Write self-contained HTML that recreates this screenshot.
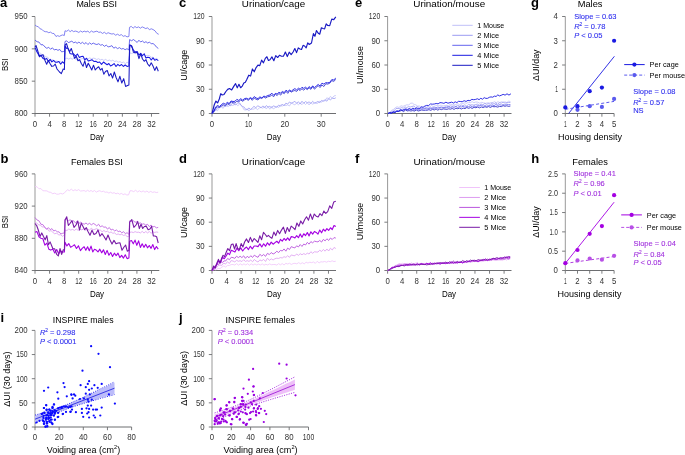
<!DOCTYPE html>
<html><head><meta charset="utf-8"><style>html,body{margin:0;padding:0;background:#fff;}svg{display:block;will-change:transform;}text{font-family:"Liberation Sans",sans-serif;}</style></head><body>
<svg width="685" height="455" viewBox="0 0 685 455" font-family="Liberation Sans, sans-serif">
<rect width="685" height="455" fill="#fff"/>
<text x="0.00" y="6.90" font-size="13" font-weight="bold" fill="#000">a</text>
<text x="179.00" y="6.70" font-size="13" font-weight="bold" fill="#000">c</text>
<text x="355.00" y="6.70" font-size="13" font-weight="bold" fill="#000">e</text>
<text x="531.00" y="6.50" font-size="13" font-weight="bold" fill="#000">g</text>
<text x="0.40" y="163.10" font-size="13" font-weight="bold" fill="#000">b</text>
<text x="179.00" y="163.10" font-size="13" font-weight="bold" fill="#000">d</text>
<text x="355.00" y="163.10" font-size="13" font-weight="bold" fill="#000">f</text>
<text x="531.20" y="163.10" font-size="13" font-weight="bold" fill="#000">h</text>
<text x="0.40" y="321.60" font-size="13" font-weight="bold" fill="#000">i</text>
<text x="179.00" y="321.60" font-size="13" font-weight="bold" fill="#000">j</text>
<text x="96.70" y="7.20" font-size="9" text-anchor="middle" textLength="40.6" lengthAdjust="spacingAndGlyphs">Males BSI</text>
<text x="273.50" y="7.20" font-size="9" text-anchor="middle" textLength="63.3" lengthAdjust="spacingAndGlyphs">Urination/cage</text>
<text x="449.20" y="7.20" font-size="9" text-anchor="middle" textLength="71.9" lengthAdjust="spacingAndGlyphs">Urination/mouse</text>
<text x="590.10" y="7.20" font-size="9" text-anchor="middle" textLength="24.8" lengthAdjust="spacingAndGlyphs">Males</text>
<text x="96.80" y="164.50" font-size="9" text-anchor="middle" textLength="51.8" lengthAdjust="spacingAndGlyphs">Females BSI</text>
<text x="273.50" y="164.50" font-size="9" text-anchor="middle" textLength="63.3" lengthAdjust="spacingAndGlyphs">Urination/cage</text>
<text x="449.40" y="164.50" font-size="9" text-anchor="middle" textLength="71.9" lengthAdjust="spacingAndGlyphs">Urination/mouse</text>
<text x="590.10" y="164.50" font-size="9" text-anchor="middle" textLength="35.7" lengthAdjust="spacingAndGlyphs">Females</text>
<text x="83.20" y="323.10" font-size="9" text-anchor="middle" textLength="60.7" lengthAdjust="spacingAndGlyphs">INSPIRE males</text>
<text x="260.30" y="323.10" font-size="9" text-anchor="middle" textLength="69.5" lengthAdjust="spacingAndGlyphs">INSPIRE females</text>
<line x1="35.00" y1="16.50" x2="35.00" y2="114.00" stroke="#999999" stroke-width="1.0"/>
<line x1="35.00" y1="113.50" x2="159.30" y2="113.50" stroke="#6d6e71" stroke-width="1.0"/>
<line x1="31.80" y1="16.50" x2="35.00" y2="16.50" stroke="#6d6e71" stroke-width="0.9"/>
<text x="27.60" y="19.40" font-size="8.2" text-anchor="end" fill="#333333" textLength="13.049999999999999" lengthAdjust="spacingAndGlyphs">950</text>
<line x1="31.80" y1="48.83" x2="35.00" y2="48.83" stroke="#6d6e71" stroke-width="0.9"/>
<text x="27.60" y="51.73" font-size="8.2" text-anchor="end" fill="#333333" textLength="13.049999999999999" lengthAdjust="spacingAndGlyphs">900</text>
<line x1="31.80" y1="81.17" x2="35.00" y2="81.17" stroke="#6d6e71" stroke-width="0.9"/>
<text x="27.60" y="84.07" font-size="8.2" text-anchor="end" fill="#333333" textLength="13.049999999999999" lengthAdjust="spacingAndGlyphs">850</text>
<line x1="31.80" y1="113.50" x2="35.00" y2="113.50" stroke="#6d6e71" stroke-width="0.9"/>
<text x="27.60" y="116.40" font-size="8.2" text-anchor="end" fill="#333333" textLength="13.049999999999999" lengthAdjust="spacingAndGlyphs">800</text>
<line x1="35.00" y1="113.50" x2="35.00" y2="116.70" stroke="#6d6e71" stroke-width="0.9"/>
<text x="35.00" y="126.80" font-size="8.2" text-anchor="middle" fill="#333333" textLength="4.35" lengthAdjust="spacingAndGlyphs">0</text>
<line x1="49.56" y1="113.50" x2="49.56" y2="116.70" stroke="#6d6e71" stroke-width="0.9"/>
<text x="49.56" y="126.80" font-size="8.2" text-anchor="middle" fill="#333333" textLength="4.35" lengthAdjust="spacingAndGlyphs">4</text>
<line x1="64.12" y1="113.50" x2="64.12" y2="116.70" stroke="#6d6e71" stroke-width="0.9"/>
<text x="64.12" y="126.80" font-size="8.2" text-anchor="middle" fill="#333333" textLength="4.35" lengthAdjust="spacingAndGlyphs">8</text>
<line x1="78.68" y1="113.50" x2="78.68" y2="116.70" stroke="#6d6e71" stroke-width="0.9"/>
<text x="78.68" y="126.80" font-size="8.2" text-anchor="middle" fill="#333333" textLength="7.05" lengthAdjust="spacingAndGlyphs">12</text>
<line x1="93.24" y1="113.50" x2="93.24" y2="116.70" stroke="#6d6e71" stroke-width="0.9"/>
<text x="93.24" y="126.80" font-size="8.2" text-anchor="middle" fill="#333333" textLength="7.05" lengthAdjust="spacingAndGlyphs">16</text>
<line x1="107.80" y1="113.50" x2="107.80" y2="116.70" stroke="#6d6e71" stroke-width="0.9"/>
<text x="107.80" y="126.80" font-size="8.2" text-anchor="middle" fill="#333333" textLength="8.7" lengthAdjust="spacingAndGlyphs">20</text>
<line x1="122.36" y1="113.50" x2="122.36" y2="116.70" stroke="#6d6e71" stroke-width="0.9"/>
<text x="122.36" y="126.80" font-size="8.2" text-anchor="middle" fill="#333333" textLength="8.7" lengthAdjust="spacingAndGlyphs">24</text>
<line x1="136.92" y1="113.50" x2="136.92" y2="116.70" stroke="#6d6e71" stroke-width="0.9"/>
<text x="136.92" y="126.80" font-size="8.2" text-anchor="middle" fill="#333333" textLength="8.7" lengthAdjust="spacingAndGlyphs">28</text>
<line x1="151.48" y1="113.50" x2="151.48" y2="116.70" stroke="#6d6e71" stroke-width="0.9"/>
<text x="151.48" y="126.80" font-size="8.2" text-anchor="middle" fill="#333333" textLength="8.7" lengthAdjust="spacingAndGlyphs">32</text>
<line x1="35.00" y1="173.90" x2="35.00" y2="271.00" stroke="#999999" stroke-width="1.0"/>
<line x1="35.00" y1="270.50" x2="159.30" y2="270.50" stroke="#6d6e71" stroke-width="1.0"/>
<line x1="31.80" y1="173.90" x2="35.00" y2="173.90" stroke="#6d6e71" stroke-width="0.9"/>
<text x="27.60" y="176.80" font-size="8.2" text-anchor="end" fill="#333333" textLength="13.049999999999999" lengthAdjust="spacingAndGlyphs">960</text>
<line x1="31.80" y1="206.10" x2="35.00" y2="206.10" stroke="#6d6e71" stroke-width="0.9"/>
<text x="27.60" y="209.00" font-size="8.2" text-anchor="end" fill="#333333" textLength="13.049999999999999" lengthAdjust="spacingAndGlyphs">920</text>
<line x1="31.80" y1="238.30" x2="35.00" y2="238.30" stroke="#6d6e71" stroke-width="0.9"/>
<text x="27.60" y="241.20" font-size="8.2" text-anchor="end" fill="#333333" textLength="13.049999999999999" lengthAdjust="spacingAndGlyphs">880</text>
<line x1="31.80" y1="270.50" x2="35.00" y2="270.50" stroke="#6d6e71" stroke-width="0.9"/>
<text x="27.60" y="273.40" font-size="8.2" text-anchor="end" fill="#333333" textLength="13.049999999999999" lengthAdjust="spacingAndGlyphs">840</text>
<line x1="35.00" y1="270.50" x2="35.00" y2="273.70" stroke="#6d6e71" stroke-width="0.9"/>
<text x="35.00" y="283.80" font-size="8.2" text-anchor="middle" fill="#333333" textLength="4.35" lengthAdjust="spacingAndGlyphs">0</text>
<line x1="49.56" y1="270.50" x2="49.56" y2="273.70" stroke="#6d6e71" stroke-width="0.9"/>
<text x="49.56" y="283.80" font-size="8.2" text-anchor="middle" fill="#333333" textLength="4.35" lengthAdjust="spacingAndGlyphs">4</text>
<line x1="64.12" y1="270.50" x2="64.12" y2="273.70" stroke="#6d6e71" stroke-width="0.9"/>
<text x="64.12" y="283.80" font-size="8.2" text-anchor="middle" fill="#333333" textLength="4.35" lengthAdjust="spacingAndGlyphs">8</text>
<line x1="78.68" y1="270.50" x2="78.68" y2="273.70" stroke="#6d6e71" stroke-width="0.9"/>
<text x="78.68" y="283.80" font-size="8.2" text-anchor="middle" fill="#333333" textLength="7.05" lengthAdjust="spacingAndGlyphs">12</text>
<line x1="93.24" y1="270.50" x2="93.24" y2="273.70" stroke="#6d6e71" stroke-width="0.9"/>
<text x="93.24" y="283.80" font-size="8.2" text-anchor="middle" fill="#333333" textLength="7.05" lengthAdjust="spacingAndGlyphs">16</text>
<line x1="107.80" y1="270.50" x2="107.80" y2="273.70" stroke="#6d6e71" stroke-width="0.9"/>
<text x="107.80" y="283.80" font-size="8.2" text-anchor="middle" fill="#333333" textLength="8.7" lengthAdjust="spacingAndGlyphs">20</text>
<line x1="122.36" y1="270.50" x2="122.36" y2="273.70" stroke="#6d6e71" stroke-width="0.9"/>
<text x="122.36" y="283.80" font-size="8.2" text-anchor="middle" fill="#333333" textLength="8.7" lengthAdjust="spacingAndGlyphs">24</text>
<line x1="136.92" y1="270.50" x2="136.92" y2="273.70" stroke="#6d6e71" stroke-width="0.9"/>
<text x="136.92" y="283.80" font-size="8.2" text-anchor="middle" fill="#333333" textLength="8.7" lengthAdjust="spacingAndGlyphs">28</text>
<line x1="151.48" y1="270.50" x2="151.48" y2="273.70" stroke="#6d6e71" stroke-width="0.9"/>
<text x="151.48" y="283.80" font-size="8.2" text-anchor="middle" fill="#333333" textLength="8.7" lengthAdjust="spacingAndGlyphs">32</text>
<line x1="212.00" y1="16.50" x2="212.00" y2="114.00" stroke="#999999" stroke-width="1.0"/>
<line x1="212.00" y1="113.50" x2="336.00" y2="113.50" stroke="#6d6e71" stroke-width="1.0"/>
<line x1="208.80" y1="16.50" x2="212.00" y2="16.50" stroke="#6d6e71" stroke-width="0.9"/>
<text x="204.60" y="19.40" font-size="8.2" text-anchor="end" fill="#333333" textLength="11.399999999999999" lengthAdjust="spacingAndGlyphs">120</text>
<line x1="208.80" y1="40.75" x2="212.00" y2="40.75" stroke="#6d6e71" stroke-width="0.9"/>
<text x="204.60" y="43.65" font-size="8.2" text-anchor="end" fill="#333333" textLength="8.7" lengthAdjust="spacingAndGlyphs">90</text>
<line x1="208.80" y1="65.00" x2="212.00" y2="65.00" stroke="#6d6e71" stroke-width="0.9"/>
<text x="204.60" y="67.90" font-size="8.2" text-anchor="end" fill="#333333" textLength="8.7" lengthAdjust="spacingAndGlyphs">60</text>
<line x1="208.80" y1="89.25" x2="212.00" y2="89.25" stroke="#6d6e71" stroke-width="0.9"/>
<text x="204.60" y="92.15" font-size="8.2" text-anchor="end" fill="#333333" textLength="8.7" lengthAdjust="spacingAndGlyphs">30</text>
<line x1="208.80" y1="113.50" x2="212.00" y2="113.50" stroke="#6d6e71" stroke-width="0.9"/>
<text x="204.60" y="116.40" font-size="8.2" text-anchor="end" fill="#333333" textLength="4.35" lengthAdjust="spacingAndGlyphs">0</text>
<line x1="212.00" y1="113.50" x2="212.00" y2="116.70" stroke="#6d6e71" stroke-width="0.9"/>
<text x="212.00" y="126.80" font-size="8.2" text-anchor="middle" fill="#333333" textLength="4.35" lengthAdjust="spacingAndGlyphs">0</text>
<line x1="248.40" y1="113.50" x2="248.40" y2="116.70" stroke="#6d6e71" stroke-width="0.9"/>
<text x="248.40" y="126.80" font-size="8.2" text-anchor="middle" fill="#333333" textLength="7.05" lengthAdjust="spacingAndGlyphs">10</text>
<line x1="284.80" y1="113.50" x2="284.80" y2="116.70" stroke="#6d6e71" stroke-width="0.9"/>
<text x="284.80" y="126.80" font-size="8.2" text-anchor="middle" fill="#333333" textLength="8.7" lengthAdjust="spacingAndGlyphs">20</text>
<line x1="321.20" y1="113.50" x2="321.20" y2="116.70" stroke="#6d6e71" stroke-width="0.9"/>
<text x="321.20" y="126.80" font-size="8.2" text-anchor="middle" fill="#333333" textLength="8.7" lengthAdjust="spacingAndGlyphs">30</text>
<line x1="212.00" y1="173.90" x2="212.00" y2="271.00" stroke="#999999" stroke-width="1.0"/>
<line x1="212.00" y1="270.50" x2="336.00" y2="270.50" stroke="#6d6e71" stroke-width="1.0"/>
<line x1="208.80" y1="173.90" x2="212.00" y2="173.90" stroke="#6d6e71" stroke-width="0.9"/>
<text x="204.60" y="176.80" font-size="8.2" text-anchor="end" fill="#333333" textLength="11.399999999999999" lengthAdjust="spacingAndGlyphs">120</text>
<line x1="208.80" y1="198.05" x2="212.00" y2="198.05" stroke="#6d6e71" stroke-width="0.9"/>
<text x="204.60" y="200.95" font-size="8.2" text-anchor="end" fill="#333333" textLength="8.7" lengthAdjust="spacingAndGlyphs">90</text>
<line x1="208.80" y1="222.20" x2="212.00" y2="222.20" stroke="#6d6e71" stroke-width="0.9"/>
<text x="204.60" y="225.10" font-size="8.2" text-anchor="end" fill="#333333" textLength="8.7" lengthAdjust="spacingAndGlyphs">60</text>
<line x1="208.80" y1="246.35" x2="212.00" y2="246.35" stroke="#6d6e71" stroke-width="0.9"/>
<text x="204.60" y="249.25" font-size="8.2" text-anchor="end" fill="#333333" textLength="8.7" lengthAdjust="spacingAndGlyphs">30</text>
<line x1="208.80" y1="270.50" x2="212.00" y2="270.50" stroke="#6d6e71" stroke-width="0.9"/>
<text x="204.60" y="273.40" font-size="8.2" text-anchor="end" fill="#333333" textLength="4.35" lengthAdjust="spacingAndGlyphs">0</text>
<line x1="212.00" y1="270.50" x2="212.00" y2="273.70" stroke="#6d6e71" stroke-width="0.9"/>
<text x="212.00" y="283.80" font-size="8.2" text-anchor="middle" fill="#333333" textLength="4.35" lengthAdjust="spacingAndGlyphs">0</text>
<line x1="226.56" y1="270.50" x2="226.56" y2="273.70" stroke="#6d6e71" stroke-width="0.9"/>
<text x="226.56" y="283.80" font-size="8.2" text-anchor="middle" fill="#333333" textLength="4.35" lengthAdjust="spacingAndGlyphs">4</text>
<line x1="241.12" y1="270.50" x2="241.12" y2="273.70" stroke="#6d6e71" stroke-width="0.9"/>
<text x="241.12" y="283.80" font-size="8.2" text-anchor="middle" fill="#333333" textLength="4.35" lengthAdjust="spacingAndGlyphs">8</text>
<line x1="255.68" y1="270.50" x2="255.68" y2="273.70" stroke="#6d6e71" stroke-width="0.9"/>
<text x="255.68" y="283.80" font-size="8.2" text-anchor="middle" fill="#333333" textLength="7.05" lengthAdjust="spacingAndGlyphs">12</text>
<line x1="270.24" y1="270.50" x2="270.24" y2="273.70" stroke="#6d6e71" stroke-width="0.9"/>
<text x="270.24" y="283.80" font-size="8.2" text-anchor="middle" fill="#333333" textLength="7.05" lengthAdjust="spacingAndGlyphs">16</text>
<line x1="284.80" y1="270.50" x2="284.80" y2="273.70" stroke="#6d6e71" stroke-width="0.9"/>
<text x="284.80" y="283.80" font-size="8.2" text-anchor="middle" fill="#333333" textLength="8.7" lengthAdjust="spacingAndGlyphs">20</text>
<line x1="299.36" y1="270.50" x2="299.36" y2="273.70" stroke="#6d6e71" stroke-width="0.9"/>
<text x="299.36" y="283.80" font-size="8.2" text-anchor="middle" fill="#333333" textLength="8.7" lengthAdjust="spacingAndGlyphs">24</text>
<line x1="313.92" y1="270.50" x2="313.92" y2="273.70" stroke="#6d6e71" stroke-width="0.9"/>
<text x="313.92" y="283.80" font-size="8.2" text-anchor="middle" fill="#333333" textLength="8.7" lengthAdjust="spacingAndGlyphs">28</text>
<line x1="328.48" y1="270.50" x2="328.48" y2="273.70" stroke="#6d6e71" stroke-width="0.9"/>
<text x="328.48" y="283.80" font-size="8.2" text-anchor="middle" fill="#333333" textLength="8.7" lengthAdjust="spacingAndGlyphs">32</text>
<line x1="387.60" y1="16.50" x2="387.60" y2="114.00" stroke="#999999" stroke-width="1.0"/>
<line x1="387.60" y1="113.50" x2="511.50" y2="113.50" stroke="#6d6e71" stroke-width="1.0"/>
<line x1="384.40" y1="16.50" x2="387.60" y2="16.50" stroke="#6d6e71" stroke-width="0.9"/>
<text x="380.20" y="19.40" font-size="8.2" text-anchor="end" fill="#333333" textLength="11.399999999999999" lengthAdjust="spacingAndGlyphs">120</text>
<line x1="384.40" y1="40.75" x2="387.60" y2="40.75" stroke="#6d6e71" stroke-width="0.9"/>
<text x="380.20" y="43.65" font-size="8.2" text-anchor="end" fill="#333333" textLength="8.7" lengthAdjust="spacingAndGlyphs">90</text>
<line x1="384.40" y1="65.00" x2="387.60" y2="65.00" stroke="#6d6e71" stroke-width="0.9"/>
<text x="380.20" y="67.90" font-size="8.2" text-anchor="end" fill="#333333" textLength="8.7" lengthAdjust="spacingAndGlyphs">60</text>
<line x1="384.40" y1="89.25" x2="387.60" y2="89.25" stroke="#6d6e71" stroke-width="0.9"/>
<text x="380.20" y="92.15" font-size="8.2" text-anchor="end" fill="#333333" textLength="8.7" lengthAdjust="spacingAndGlyphs">30</text>
<line x1="384.40" y1="113.50" x2="387.60" y2="113.50" stroke="#6d6e71" stroke-width="0.9"/>
<text x="380.20" y="116.40" font-size="8.2" text-anchor="end" fill="#333333" textLength="4.35" lengthAdjust="spacingAndGlyphs">0</text>
<line x1="387.60" y1="113.50" x2="387.60" y2="116.70" stroke="#6d6e71" stroke-width="0.9"/>
<text x="387.60" y="126.80" font-size="8.2" text-anchor="middle" fill="#333333" textLength="4.35" lengthAdjust="spacingAndGlyphs">0</text>
<line x1="402.16" y1="113.50" x2="402.16" y2="116.70" stroke="#6d6e71" stroke-width="0.9"/>
<text x="402.16" y="126.80" font-size="8.2" text-anchor="middle" fill="#333333" textLength="4.35" lengthAdjust="spacingAndGlyphs">4</text>
<line x1="416.72" y1="113.50" x2="416.72" y2="116.70" stroke="#6d6e71" stroke-width="0.9"/>
<text x="416.72" y="126.80" font-size="8.2" text-anchor="middle" fill="#333333" textLength="4.35" lengthAdjust="spacingAndGlyphs">8</text>
<line x1="431.28" y1="113.50" x2="431.28" y2="116.70" stroke="#6d6e71" stroke-width="0.9"/>
<text x="431.28" y="126.80" font-size="8.2" text-anchor="middle" fill="#333333" textLength="7.05" lengthAdjust="spacingAndGlyphs">12</text>
<line x1="445.84" y1="113.50" x2="445.84" y2="116.70" stroke="#6d6e71" stroke-width="0.9"/>
<text x="445.84" y="126.80" font-size="8.2" text-anchor="middle" fill="#333333" textLength="7.05" lengthAdjust="spacingAndGlyphs">16</text>
<line x1="460.40" y1="113.50" x2="460.40" y2="116.70" stroke="#6d6e71" stroke-width="0.9"/>
<text x="460.40" y="126.80" font-size="8.2" text-anchor="middle" fill="#333333" textLength="8.7" lengthAdjust="spacingAndGlyphs">20</text>
<line x1="474.96" y1="113.50" x2="474.96" y2="116.70" stroke="#6d6e71" stroke-width="0.9"/>
<text x="474.96" y="126.80" font-size="8.2" text-anchor="middle" fill="#333333" textLength="8.7" lengthAdjust="spacingAndGlyphs">24</text>
<line x1="489.52" y1="113.50" x2="489.52" y2="116.70" stroke="#6d6e71" stroke-width="0.9"/>
<text x="489.52" y="126.80" font-size="8.2" text-anchor="middle" fill="#333333" textLength="8.7" lengthAdjust="spacingAndGlyphs">28</text>
<line x1="504.08" y1="113.50" x2="504.08" y2="116.70" stroke="#6d6e71" stroke-width="0.9"/>
<text x="504.08" y="126.80" font-size="8.2" text-anchor="middle" fill="#333333" textLength="8.7" lengthAdjust="spacingAndGlyphs">32</text>
<line x1="387.60" y1="173.90" x2="387.60" y2="271.00" stroke="#999999" stroke-width="1.0"/>
<line x1="387.60" y1="270.50" x2="511.50" y2="270.50" stroke="#6d6e71" stroke-width="1.0"/>
<line x1="384.40" y1="173.90" x2="387.60" y2="173.90" stroke="#6d6e71" stroke-width="0.9"/>
<text x="380.20" y="176.80" font-size="8.2" text-anchor="end" fill="#333333" textLength="11.399999999999999" lengthAdjust="spacingAndGlyphs">120</text>
<line x1="384.40" y1="198.05" x2="387.60" y2="198.05" stroke="#6d6e71" stroke-width="0.9"/>
<text x="380.20" y="200.95" font-size="8.2" text-anchor="end" fill="#333333" textLength="8.7" lengthAdjust="spacingAndGlyphs">90</text>
<line x1="384.40" y1="222.20" x2="387.60" y2="222.20" stroke="#6d6e71" stroke-width="0.9"/>
<text x="380.20" y="225.10" font-size="8.2" text-anchor="end" fill="#333333" textLength="8.7" lengthAdjust="spacingAndGlyphs">60</text>
<line x1="384.40" y1="246.35" x2="387.60" y2="246.35" stroke="#6d6e71" stroke-width="0.9"/>
<text x="380.20" y="249.25" font-size="8.2" text-anchor="end" fill="#333333" textLength="8.7" lengthAdjust="spacingAndGlyphs">30</text>
<line x1="384.40" y1="270.50" x2="387.60" y2="270.50" stroke="#6d6e71" stroke-width="0.9"/>
<text x="380.20" y="273.40" font-size="8.2" text-anchor="end" fill="#333333" textLength="4.35" lengthAdjust="spacingAndGlyphs">0</text>
<line x1="387.60" y1="270.50" x2="387.60" y2="273.70" stroke="#6d6e71" stroke-width="0.9"/>
<text x="387.60" y="283.80" font-size="8.2" text-anchor="middle" fill="#333333" textLength="4.35" lengthAdjust="spacingAndGlyphs">0</text>
<line x1="402.16" y1="270.50" x2="402.16" y2="273.70" stroke="#6d6e71" stroke-width="0.9"/>
<text x="402.16" y="283.80" font-size="8.2" text-anchor="middle" fill="#333333" textLength="4.35" lengthAdjust="spacingAndGlyphs">4</text>
<line x1="416.72" y1="270.50" x2="416.72" y2="273.70" stroke="#6d6e71" stroke-width="0.9"/>
<text x="416.72" y="283.80" font-size="8.2" text-anchor="middle" fill="#333333" textLength="4.35" lengthAdjust="spacingAndGlyphs">8</text>
<line x1="431.28" y1="270.50" x2="431.28" y2="273.70" stroke="#6d6e71" stroke-width="0.9"/>
<text x="431.28" y="283.80" font-size="8.2" text-anchor="middle" fill="#333333" textLength="7.05" lengthAdjust="spacingAndGlyphs">12</text>
<line x1="445.84" y1="270.50" x2="445.84" y2="273.70" stroke="#6d6e71" stroke-width="0.9"/>
<text x="445.84" y="283.80" font-size="8.2" text-anchor="middle" fill="#333333" textLength="7.05" lengthAdjust="spacingAndGlyphs">16</text>
<line x1="460.40" y1="270.50" x2="460.40" y2="273.70" stroke="#6d6e71" stroke-width="0.9"/>
<text x="460.40" y="283.80" font-size="8.2" text-anchor="middle" fill="#333333" textLength="8.7" lengthAdjust="spacingAndGlyphs">20</text>
<line x1="474.96" y1="270.50" x2="474.96" y2="273.70" stroke="#6d6e71" stroke-width="0.9"/>
<text x="474.96" y="283.80" font-size="8.2" text-anchor="middle" fill="#333333" textLength="8.7" lengthAdjust="spacingAndGlyphs">24</text>
<line x1="489.52" y1="270.50" x2="489.52" y2="273.70" stroke="#6d6e71" stroke-width="0.9"/>
<text x="489.52" y="283.80" font-size="8.2" text-anchor="middle" fill="#333333" textLength="8.7" lengthAdjust="spacingAndGlyphs">28</text>
<line x1="504.08" y1="270.50" x2="504.08" y2="273.70" stroke="#6d6e71" stroke-width="0.9"/>
<text x="504.08" y="283.80" font-size="8.2" text-anchor="middle" fill="#333333" textLength="8.7" lengthAdjust="spacingAndGlyphs">32</text>
<line x1="565.30" y1="16.50" x2="565.30" y2="114.00" stroke="#999999" stroke-width="1.0"/>
<line x1="565.30" y1="113.50" x2="614.10" y2="113.50" stroke="#6d6e71" stroke-width="1.0"/>
<line x1="562.10" y1="16.50" x2="565.30" y2="16.50" stroke="#6d6e71" stroke-width="0.9"/>
<text x="557.90" y="19.40" font-size="8.2" text-anchor="end" fill="#333333" textLength="4.35" lengthAdjust="spacingAndGlyphs">4</text>
<line x1="562.10" y1="40.75" x2="565.30" y2="40.75" stroke="#6d6e71" stroke-width="0.9"/>
<text x="557.90" y="43.65" font-size="8.2" text-anchor="end" fill="#333333" textLength="4.35" lengthAdjust="spacingAndGlyphs">3</text>
<line x1="562.10" y1="65.00" x2="565.30" y2="65.00" stroke="#6d6e71" stroke-width="0.9"/>
<text x="557.90" y="67.90" font-size="8.2" text-anchor="end" fill="#333333" textLength="4.35" lengthAdjust="spacingAndGlyphs">2</text>
<line x1="562.10" y1="89.25" x2="565.30" y2="89.25" stroke="#6d6e71" stroke-width="0.9"/>
<text x="557.90" y="92.15" font-size="8.2" text-anchor="end" fill="#333333" textLength="2.7" lengthAdjust="spacingAndGlyphs">1</text>
<line x1="562.10" y1="113.50" x2="565.30" y2="113.50" stroke="#6d6e71" stroke-width="0.9"/>
<text x="557.90" y="116.40" font-size="8.2" text-anchor="end" fill="#333333" textLength="4.35" lengthAdjust="spacingAndGlyphs">0</text>
<line x1="565.30" y1="113.50" x2="565.30" y2="116.70" stroke="#6d6e71" stroke-width="0.9"/>
<text x="565.30" y="126.80" font-size="8.2" text-anchor="middle" fill="#333333" textLength="2.7" lengthAdjust="spacingAndGlyphs">1</text>
<line x1="577.50" y1="113.50" x2="577.50" y2="116.70" stroke="#6d6e71" stroke-width="0.9"/>
<text x="577.50" y="126.80" font-size="8.2" text-anchor="middle" fill="#333333" textLength="4.35" lengthAdjust="spacingAndGlyphs">2</text>
<line x1="589.70" y1="113.50" x2="589.70" y2="116.70" stroke="#6d6e71" stroke-width="0.9"/>
<text x="589.70" y="126.80" font-size="8.2" text-anchor="middle" fill="#333333" textLength="4.35" lengthAdjust="spacingAndGlyphs">3</text>
<line x1="601.90" y1="113.50" x2="601.90" y2="116.70" stroke="#6d6e71" stroke-width="0.9"/>
<text x="601.90" y="126.80" font-size="8.2" text-anchor="middle" fill="#333333" textLength="4.35" lengthAdjust="spacingAndGlyphs">4</text>
<line x1="614.10" y1="113.50" x2="614.10" y2="116.70" stroke="#6d6e71" stroke-width="0.9"/>
<text x="614.10" y="126.80" font-size="8.2" text-anchor="middle" fill="#333333" textLength="4.35" lengthAdjust="spacingAndGlyphs">5</text>
<line x1="565.30" y1="173.90" x2="565.30" y2="271.00" stroke="#999999" stroke-width="1.0"/>
<line x1="565.30" y1="270.50" x2="614.10" y2="270.50" stroke="#6d6e71" stroke-width="1.0"/>
<line x1="562.10" y1="173.90" x2="565.30" y2="173.90" stroke="#6d6e71" stroke-width="0.9"/>
<text x="557.90" y="176.80" font-size="8.2" text-anchor="end" fill="#333333" textLength="10.0" lengthAdjust="spacingAndGlyphs">2.5</text>
<line x1="562.10" y1="193.22" x2="565.30" y2="193.22" stroke="#6d6e71" stroke-width="0.9"/>
<text x="557.90" y="196.12" font-size="8.2" text-anchor="end" fill="#333333" textLength="10.0" lengthAdjust="spacingAndGlyphs">2.0</text>
<line x1="562.10" y1="212.54" x2="565.30" y2="212.54" stroke="#6d6e71" stroke-width="0.9"/>
<text x="557.90" y="215.44" font-size="8.2" text-anchor="end" fill="#333333" textLength="8.35" lengthAdjust="spacingAndGlyphs">1.5</text>
<line x1="562.10" y1="231.86" x2="565.30" y2="231.86" stroke="#6d6e71" stroke-width="0.9"/>
<text x="557.90" y="234.76" font-size="8.2" text-anchor="end" fill="#333333" textLength="8.35" lengthAdjust="spacingAndGlyphs">1.0</text>
<line x1="562.10" y1="251.18" x2="565.30" y2="251.18" stroke="#6d6e71" stroke-width="0.9"/>
<text x="557.90" y="254.08" font-size="8.2" text-anchor="end" fill="#333333" textLength="10.0" lengthAdjust="spacingAndGlyphs">0.5</text>
<line x1="562.10" y1="270.50" x2="565.30" y2="270.50" stroke="#6d6e71" stroke-width="0.9"/>
<text x="557.90" y="273.40" font-size="8.2" text-anchor="end" fill="#333333" textLength="4.35" lengthAdjust="spacingAndGlyphs">0</text>
<line x1="565.30" y1="270.50" x2="565.30" y2="273.70" stroke="#6d6e71" stroke-width="0.9"/>
<text x="565.30" y="283.80" font-size="8.2" text-anchor="middle" fill="#333333" textLength="2.7" lengthAdjust="spacingAndGlyphs">1</text>
<line x1="577.50" y1="270.50" x2="577.50" y2="273.70" stroke="#6d6e71" stroke-width="0.9"/>
<text x="577.50" y="283.80" font-size="8.2" text-anchor="middle" fill="#333333" textLength="4.35" lengthAdjust="spacingAndGlyphs">2</text>
<line x1="589.70" y1="270.50" x2="589.70" y2="273.70" stroke="#6d6e71" stroke-width="0.9"/>
<text x="589.70" y="283.80" font-size="8.2" text-anchor="middle" fill="#333333" textLength="4.35" lengthAdjust="spacingAndGlyphs">3</text>
<line x1="601.90" y1="270.50" x2="601.90" y2="273.70" stroke="#6d6e71" stroke-width="0.9"/>
<text x="601.90" y="283.80" font-size="8.2" text-anchor="middle" fill="#333333" textLength="4.35" lengthAdjust="spacingAndGlyphs">4</text>
<line x1="614.10" y1="270.50" x2="614.10" y2="273.70" stroke="#6d6e71" stroke-width="0.9"/>
<text x="614.10" y="283.80" font-size="8.2" text-anchor="middle" fill="#333333" textLength="4.35" lengthAdjust="spacingAndGlyphs">5</text>
<line x1="35.00" y1="330.40" x2="35.00" y2="427.50" stroke="#999999" stroke-width="1.0"/>
<line x1="35.00" y1="427.00" x2="131.60" y2="427.00" stroke="#6d6e71" stroke-width="1.0"/>
<line x1="31.80" y1="330.40" x2="35.00" y2="330.40" stroke="#6d6e71" stroke-width="0.9"/>
<text x="27.60" y="333.30" font-size="8.2" text-anchor="end" fill="#333333" textLength="13.049999999999999" lengthAdjust="spacingAndGlyphs">200</text>
<line x1="31.80" y1="354.55" x2="35.00" y2="354.55" stroke="#6d6e71" stroke-width="0.9"/>
<text x="27.60" y="357.45" font-size="8.2" text-anchor="end" fill="#333333" textLength="11.399999999999999" lengthAdjust="spacingAndGlyphs">150</text>
<line x1="31.80" y1="378.70" x2="35.00" y2="378.70" stroke="#6d6e71" stroke-width="0.9"/>
<text x="27.60" y="381.60" font-size="8.2" text-anchor="end" fill="#333333" textLength="11.399999999999999" lengthAdjust="spacingAndGlyphs">100</text>
<line x1="31.80" y1="402.85" x2="35.00" y2="402.85" stroke="#6d6e71" stroke-width="0.9"/>
<text x="27.60" y="405.75" font-size="8.2" text-anchor="end" fill="#333333" textLength="8.7" lengthAdjust="spacingAndGlyphs">50</text>
<line x1="31.80" y1="427.00" x2="35.00" y2="427.00" stroke="#6d6e71" stroke-width="0.9"/>
<text x="27.60" y="429.90" font-size="8.2" text-anchor="end" fill="#333333" textLength="4.35" lengthAdjust="spacingAndGlyphs">0</text>
<line x1="35.00" y1="427.00" x2="35.00" y2="430.20" stroke="#6d6e71" stroke-width="0.9"/>
<text x="35.00" y="439.80" font-size="8.2" text-anchor="middle" fill="#333333" textLength="4.35" lengthAdjust="spacingAndGlyphs">0</text>
<line x1="59.15" y1="427.00" x2="59.15" y2="430.20" stroke="#6d6e71" stroke-width="0.9"/>
<text x="59.15" y="439.80" font-size="8.2" text-anchor="middle" fill="#333333" textLength="8.7" lengthAdjust="spacingAndGlyphs">20</text>
<line x1="83.30" y1="427.00" x2="83.30" y2="430.20" stroke="#6d6e71" stroke-width="0.9"/>
<text x="83.30" y="439.80" font-size="8.2" text-anchor="middle" fill="#333333" textLength="8.7" lengthAdjust="spacingAndGlyphs">40</text>
<line x1="107.45" y1="427.00" x2="107.45" y2="430.20" stroke="#6d6e71" stroke-width="0.9"/>
<text x="107.45" y="439.80" font-size="8.2" text-anchor="middle" fill="#333333" textLength="8.7" lengthAdjust="spacingAndGlyphs">60</text>
<line x1="131.60" y1="427.00" x2="131.60" y2="430.20" stroke="#6d6e71" stroke-width="0.9"/>
<text x="131.60" y="439.80" font-size="8.2" text-anchor="middle" fill="#333333" textLength="8.7" lengthAdjust="spacingAndGlyphs">80</text>
<line x1="212.00" y1="330.40" x2="212.00" y2="427.50" stroke="#999999" stroke-width="1.0"/>
<line x1="212.00" y1="427.00" x2="308.50" y2="427.00" stroke="#6d6e71" stroke-width="1.0"/>
<line x1="208.80" y1="330.40" x2="212.00" y2="330.40" stroke="#6d6e71" stroke-width="0.9"/>
<text x="204.60" y="333.30" font-size="8.2" text-anchor="end" fill="#333333" textLength="13.049999999999999" lengthAdjust="spacingAndGlyphs">200</text>
<line x1="208.80" y1="354.55" x2="212.00" y2="354.55" stroke="#6d6e71" stroke-width="0.9"/>
<text x="204.60" y="357.45" font-size="8.2" text-anchor="end" fill="#333333" textLength="11.399999999999999" lengthAdjust="spacingAndGlyphs">150</text>
<line x1="208.80" y1="378.70" x2="212.00" y2="378.70" stroke="#6d6e71" stroke-width="0.9"/>
<text x="204.60" y="381.60" font-size="8.2" text-anchor="end" fill="#333333" textLength="11.399999999999999" lengthAdjust="spacingAndGlyphs">100</text>
<line x1="208.80" y1="402.85" x2="212.00" y2="402.85" stroke="#6d6e71" stroke-width="0.9"/>
<text x="204.60" y="405.75" font-size="8.2" text-anchor="end" fill="#333333" textLength="8.7" lengthAdjust="spacingAndGlyphs">50</text>
<line x1="208.80" y1="427.00" x2="212.00" y2="427.00" stroke="#6d6e71" stroke-width="0.9"/>
<text x="204.60" y="429.90" font-size="8.2" text-anchor="end" fill="#333333" textLength="4.35" lengthAdjust="spacingAndGlyphs">0</text>
<line x1="212.00" y1="427.00" x2="212.00" y2="430.20" stroke="#6d6e71" stroke-width="0.9"/>
<text x="212.00" y="439.80" font-size="8.2" text-anchor="middle" fill="#333333" textLength="4.35" lengthAdjust="spacingAndGlyphs">0</text>
<line x1="231.30" y1="427.00" x2="231.30" y2="430.20" stroke="#6d6e71" stroke-width="0.9"/>
<text x="231.30" y="439.80" font-size="8.2" text-anchor="middle" fill="#333333" textLength="8.7" lengthAdjust="spacingAndGlyphs">20</text>
<line x1="250.60" y1="427.00" x2="250.60" y2="430.20" stroke="#6d6e71" stroke-width="0.9"/>
<text x="250.60" y="439.80" font-size="8.2" text-anchor="middle" fill="#333333" textLength="8.7" lengthAdjust="spacingAndGlyphs">40</text>
<line x1="269.90" y1="427.00" x2="269.90" y2="430.20" stroke="#6d6e71" stroke-width="0.9"/>
<text x="269.90" y="439.80" font-size="8.2" text-anchor="middle" fill="#333333" textLength="8.7" lengthAdjust="spacingAndGlyphs">60</text>
<line x1="289.20" y1="427.00" x2="289.20" y2="430.20" stroke="#6d6e71" stroke-width="0.9"/>
<text x="289.20" y="439.80" font-size="8.2" text-anchor="middle" fill="#333333" textLength="8.7" lengthAdjust="spacingAndGlyphs">80</text>
<line x1="308.50" y1="427.00" x2="308.50" y2="430.20" stroke="#6d6e71" stroke-width="0.9"/>
<text x="308.50" y="439.80" font-size="8.2" text-anchor="middle" fill="#333333" textLength="11.399999999999999" lengthAdjust="spacingAndGlyphs">100</text>
<text x="97.00" y="140.00" font-size="8.5" text-anchor="middle" textLength="14.2" lengthAdjust="spacingAndGlyphs">Day</text>
<text x="273.90" y="140.00" font-size="8.5" text-anchor="middle" textLength="14.2" lengthAdjust="spacingAndGlyphs">Day</text>
<text x="449.10" y="140.00" font-size="8.5" text-anchor="middle" textLength="14.2" lengthAdjust="spacingAndGlyphs">Day</text>
<text x="97.00" y="297.00" font-size="8.5" text-anchor="middle" textLength="14.2" lengthAdjust="spacingAndGlyphs">Day</text>
<text x="274.10" y="297.00" font-size="8.5" text-anchor="middle" textLength="14.2" lengthAdjust="spacingAndGlyphs">Day</text>
<text x="449.00" y="297.00" font-size="8.5" text-anchor="middle" textLength="14.2" lengthAdjust="spacingAndGlyphs">Day</text>
<text x="590.00" y="139.70" font-size="9" text-anchor="middle" textLength="64.2" lengthAdjust="spacingAndGlyphs">Housing density</text>
<text x="589.50" y="297.00" font-size="9" text-anchor="middle" textLength="64.2" lengthAdjust="spacingAndGlyphs">Housing density</text>
<text x="83.4" y="453" font-size="9" text-anchor="middle" textLength="73.5" lengthAdjust="spacingAndGlyphs">Voiding area (cm<tspan font-size="5.6" dy="-4">2</tspan><tspan dy="4">)</tspan></text>
<text x="260.5" y="453" font-size="9" text-anchor="middle" textLength="74.2" lengthAdjust="spacingAndGlyphs">Voiding area (cm<tspan font-size="5.6" dy="-4">2</tspan><tspan dy="4">)</tspan></text>
<text x="7.90" y="64.80" font-size="9" text-anchor="middle" textLength="12.5" lengthAdjust="spacingAndGlyphs" transform="rotate(-90 7.90 64.80)">BSI</text>
<text x="7.90" y="222.00" font-size="9" text-anchor="middle" textLength="12.5" lengthAdjust="spacingAndGlyphs" transform="rotate(-90 7.90 222.00)">BSI</text>
<text x="186.80" y="65.20" font-size="9" text-anchor="middle" textLength="31" lengthAdjust="spacingAndGlyphs" transform="rotate(-90 186.80 65.20)">UI/cage</text>
<text x="186.80" y="222.50" font-size="9" text-anchor="middle" textLength="31" lengthAdjust="spacingAndGlyphs" transform="rotate(-90 186.80 222.50)">UI/cage</text>
<text x="363.40" y="65.10" font-size="9" text-anchor="middle" textLength="37.9" lengthAdjust="spacingAndGlyphs" transform="rotate(-90 363.40 65.10)">UI/mouse</text>
<text x="363.40" y="221.60" font-size="9" text-anchor="middle" textLength="37.5" lengthAdjust="spacingAndGlyphs" transform="rotate(-90 363.40 221.60)">UI/mouse</text>
<text x="539.40" y="65.20" font-size="9" text-anchor="middle" textLength="31.4" lengthAdjust="spacingAndGlyphs" transform="rotate(-90 539.40 65.20)">ΔUI/day</text>
<text x="539.40" y="222.00" font-size="9" text-anchor="middle" textLength="31.3" lengthAdjust="spacingAndGlyphs" transform="rotate(-90 539.40 222.00)">ΔUI/day</text>
<text x="10.30" y="379.20" font-size="9" text-anchor="middle" textLength="55.2" lengthAdjust="spacingAndGlyphs" transform="rotate(-90 10.30 379.20)">ΔUI (30 days)</text>
<text x="186.80" y="378.40" font-size="9" text-anchor="middle" textLength="54.6" lengthAdjust="spacingAndGlyphs" transform="rotate(-90 186.80 378.40)">ΔUI (30 days)</text>
<polyline points="35.00,50.50 36.78,51.32 38.56,52.92 40.33,52.97 42.11,54.95 43.89,55.05 45.67,57.08 47.44,57.00 49.22,59.38 51.00,60.00 52.91,59.68 54.83,61.45 56.74,61.01 58.66,61.61 60.57,61.36 62.49,62.61 64.40,62.50 65.20,58.50 66.96,58.10 68.71,59.08 70.47,58.12 72.22,59.18 73.98,58.20 75.73,59.35 77.49,58.67 79.24,59.39 81.00,59.00 82.75,58.42 84.50,59.70 86.25,58.71 88.00,59.01 89.75,57.85 91.50,58.84 93.25,58.14 95.00,58.50 96.78,59.51 98.57,58.72 100.35,59.85 102.14,59.24 103.92,60.47 105.71,59.17 107.49,60.96 109.27,59.97 111.06,61.10 112.84,60.16 114.63,61.56 116.41,60.96 118.19,62.20 119.98,61.60 121.76,62.72 123.55,62.10 125.33,63.68 127.12,62.23 128.90,63.30 129.80,52.80 131.59,53.43 133.38,52.90 135.17,53.71 136.96,53.31 138.75,54.65 140.54,53.68 142.33,55.00 144.12,54.62 145.91,55.74 147.70,55.40 149.47,55.68 151.23,57.38 153.00,57.18 154.77,58.92 156.53,58.38 158.30,59.80" fill="none" stroke="#c0c0f8" stroke-width="0.8" stroke-linejoin="round"/>
<polyline points="35.00,25.00 36.70,26.28 38.40,26.77 40.10,28.84 41.80,29.29 43.50,31.00 45.25,31.70 47.00,31.74 48.75,32.71 50.50,32.12 52.25,33.38 54.00,33.50 56.00,36.50 57.67,35.65 59.33,36.40 61.00,35.50 62.65,34.91 64.30,35.50 65.00,30.80 66.71,31.26 68.43,30.00 70.14,31.68 71.86,30.37 73.57,31.64 75.29,31.07 77.00,31.50 78.80,32.46 80.60,31.00 82.40,32.12 84.20,31.13 86.00,31.93 87.80,31.12 89.60,32.64 91.40,31.01 93.20,32.13 95.00,31.70 96.88,31.13 98.75,32.33 100.62,32.04 102.50,33.44 104.38,32.26 106.25,33.84 108.12,32.68 110.00,33.50 111.89,34.04 113.78,33.67 115.67,35.19 117.56,34.19 119.45,35.45 121.34,34.62 123.23,36.34 125.12,35.67 127.01,36.88 128.90,36.50 129.50,27.30 131.31,26.40 133.12,28.21 134.94,26.52 136.75,27.67 138.56,26.89 140.38,28.18 142.19,26.86 144.00,27.70 145.80,28.60 147.60,27.75 149.40,29.75 151.20,28.78 153.00,29.50 155.00,30.80 156.85,33.33 158.70,34.30" fill="none" stroke="#6464ee" stroke-width="0.8" stroke-linejoin="round"/>
<polyline points="35.00,40.00 37.00,41.75 39.00,42.09 41.00,44.82 43.00,44.74 45.00,47.00 46.85,48.35 48.70,47.28 50.55,49.29 52.40,47.81 54.25,49.99 56.10,49.30 57.95,50.33 59.80,49.49 61.65,51.87 63.50,51.50 64.40,51.50 65.00,41.50 66.67,40.82 68.33,42.58 70.00,42.00 71.79,41.01 73.57,42.88 75.36,42.05 77.14,43.31 78.93,42.08 80.71,43.58 82.50,42.30 84.29,43.95 86.07,42.55 87.86,44.56 89.64,42.87 91.43,44.28 93.21,43.05 95.00,44.00 96.88,44.53 98.75,43.71 100.62,45.20 102.50,44.60 104.38,46.33 106.25,45.12 108.12,46.87 110.00,46.50 111.89,45.65 113.78,48.16 115.67,47.15 117.56,48.63 119.45,47.61 121.34,49.00 123.23,48.51 125.12,49.70 127.01,48.70 128.90,50.00 129.60,39.60 131.53,40.72 133.47,39.56 135.40,41.00 137.16,42.46 138.92,40.23 140.68,42.01 142.44,40.97 144.20,42.64 145.96,41.70 147.72,43.07 149.48,42.05 151.24,43.84 153.00,43.50 154.77,44.86 156.53,47.16 158.30,48.40" fill="none" stroke="#4646e8" stroke-width="0.8" stroke-linejoin="round"/>
<polyline points="35.00,47.50 37.00,52.00 39.00,55.37 41.00,55.36 43.00,58.46 45.00,59.30 46.71,58.52 48.43,61.74 50.14,59.37 51.86,61.88 53.57,60.43 55.29,62.18 57.00,62.30 58.85,61.51 60.70,64.08 62.55,61.78 64.40,63.50 65.10,46.00 66.72,48.45 68.35,48.69 69.97,53.41 71.60,54.00 73.54,53.72 75.48,56.18 77.42,53.98 79.36,57.43 81.30,56.50 83.04,56.30 84.78,59.85 86.52,58.25 88.26,61.08 90.00,60.40 91.92,59.64 93.85,61.41 95.78,61.18 97.70,62.44 99.62,62.04 101.55,64.40 103.48,61.99 105.40,63.50 107.12,64.71 108.85,63.47 110.58,65.93 112.30,65.00 114.14,63.54 115.99,66.51 117.83,64.30 119.68,65.88 121.52,64.49 123.37,66.44 125.21,64.99 127.06,66.44 128.90,66.00 129.70,45.00 131.60,46.26 133.50,50.28 135.40,52.00 137.16,51.58 138.91,55.02 140.67,53.27 142.43,55.78 144.19,53.73 145.94,57.95 147.70,57.20 149.47,57.52 151.23,60.03 153.00,57.90 154.77,60.26 156.53,59.35 158.30,60.70" fill="none" stroke="#1a1ae2" stroke-width="1.05" stroke-linejoin="round"/>
<polyline points="35.00,47.00 36.00,45.50 37.80,51.00 39.40,56.83 41.00,55.50 43.00,54.67 45.00,60.50 46.67,64.17 48.33,60.53 50.00,63.50 51.75,66.36 53.50,66.00 55.25,64.12 57.00,69.00 59.50,72.00 61.35,73.63 63.20,69.00 64.40,69.50 65.10,44.80 66.55,43.56 68.00,48.50 69.63,51.88 71.27,48.46 72.90,53.30 74.58,58.29 76.26,56.29 77.94,60.69 79.62,59.84 81.30,63.50 83.04,66.32 84.78,60.85 86.52,67.56 88.26,63.25 90.00,66.50 91.75,70.01 93.50,65.18 95.25,69.97 97.00,68.00 98.70,66.72 100.40,70.03 102.10,68.38 103.80,74.18 105.50,71.50 107.27,70.47 109.03,75.95 110.80,73.52 112.57,78.08 114.33,71.99 116.10,77.50 118.00,81.84 119.90,76.27 121.80,83.03 123.70,78.61 125.60,86.41 127.50,85.50 128.90,85.00 129.70,45.00 131.60,45.66 133.50,52.36 135.40,52.80 137.18,52.35 138.95,58.60 140.72,53.79 142.50,59.00 144.23,61.24 145.97,59.68 147.70,64.00 149.47,66.18 151.23,62.84 153.00,66.00 154.77,70.42 156.53,66.76 158.30,71.20" fill="none" stroke="#1a1ac4" stroke-width="1.05" stroke-linejoin="round"/>
<polyline points="35.00,186.50 36.98,186.77 38.96,188.79 40.94,188.58 42.92,190.74 44.90,190.80 46.87,190.89 48.83,192.05 50.80,192.40 52.77,193.72 54.73,193.12 56.70,194.20 58.67,194.17 60.65,193.34 62.62,194.03 64.60,192.80 66.10,190.98 67.60,189.80 69.45,190.67 71.30,189.17 73.15,190.76 75.00,189.76 76.85,190.55 78.70,189.61 80.55,191.07 82.40,190.80 84.13,190.59 85.87,191.48 87.60,190.24 89.33,191.44 91.07,190.49 92.80,191.66 94.53,190.44 96.27,192.16 98.00,191.20 99.80,190.72 101.60,191.72 103.40,191.17 105.20,192.27 107.00,191.96 108.80,193.04 110.60,192.24 112.40,193.24 114.20,192.69 116.00,193.83 117.80,193.11 119.60,194.25 121.40,193.42 123.20,194.58 125.00,193.86 126.80,194.99 128.60,194.80 130.00,190.80 131.88,190.75 133.76,191.67 135.64,190.24 137.52,191.88 139.40,190.82 141.28,191.95 143.16,190.94 145.04,192.17 146.92,191.05 148.80,192.47 150.68,191.38 152.56,192.36 154.44,191.90 156.32,192.56 158.20,192.20" fill="none" stroke="#f0c4fa" stroke-width="0.8" stroke-linejoin="round"/>
<polyline points="35.00,222.40 36.78,223.02 38.56,224.87 40.34,225.04 42.12,226.94 43.90,226.98 45.68,228.53 47.46,229.03 49.24,231.24 51.02,230.57 52.80,232.30 54.76,233.82 56.72,233.06 58.68,235.01 60.64,234.75 62.60,236.30 64.40,235.00 65.10,230.00 66.97,230.51 68.84,228.89 70.71,230.09 72.57,229.38 74.44,230.38 76.31,229.00 78.18,230.40 80.05,229.35 81.92,229.88 83.79,228.68 85.66,230.39 87.53,228.90 89.39,230.08 91.26,228.31 93.13,229.71 95.00,229.30 96.78,228.57 98.57,230.10 100.35,230.11 102.14,231.74 103.92,230.50 105.71,231.82 107.49,231.17 109.27,232.67 111.06,232.01 112.84,233.28 114.63,232.92 116.41,234.51 118.19,233.99 119.98,234.80 121.76,234.23 123.55,235.48 125.33,234.90 127.12,236.60 128.90,236.30 129.80,232.30 131.58,232.02 133.35,232.56 135.12,231.67 136.90,232.35 138.68,232.21 140.45,232.90 142.22,231.36 144.00,233.04 145.78,231.49 147.55,232.92 149.32,231.54 151.10,233.30 152.88,231.89 154.65,232.45 156.42,231.99 158.20,232.30" fill="none" stroke="#dc9cf0" stroke-width="0.8" stroke-linejoin="round"/>
<polyline points="35.00,217.50 36.98,219.95 38.96,220.81 40.94,224.25 42.92,224.65 44.90,227.40 46.67,229.08 48.44,227.70 50.21,229.66 51.98,228.61 53.75,230.99 55.52,230.16 57.29,231.94 59.06,231.83 60.83,233.97 62.60,233.30 64.30,233.00 64.90,219.50 66.65,219.11 68.40,220.70 70.15,219.79 71.90,221.52 73.65,220.77 75.40,222.92 77.15,221.19 78.90,223.43 80.65,222.19 82.40,223.40 84.20,224.23 86.00,223.01 87.80,224.52 89.60,223.11 91.40,225.04 93.20,223.39 95.00,224.40 96.78,225.93 98.57,224.16 100.35,226.84 102.14,225.79 103.92,227.26 105.71,226.91 107.49,229.13 109.27,227.49 111.06,230.02 112.84,229.25 114.63,230.91 116.41,229.96 118.19,231.60 119.98,231.07 121.76,232.80 123.55,231.75 125.33,233.51 127.12,232.77 128.90,234.30 129.70,220.80 131.48,221.60 133.26,220.75 135.04,222.19 136.82,221.85 138.61,223.41 140.39,222.93 142.17,224.19 143.95,223.81 145.73,225.12 147.51,224.27 149.29,226.59 151.07,224.96 152.86,226.84 154.64,226.46 156.42,227.83 158.20,227.40" fill="none" stroke="#b955dd" stroke-width="0.8" stroke-linejoin="round"/>
<polyline points="35.00,232.30 36.97,231.59 38.93,236.91 40.90,238.20 42.88,238.75 44.86,245.15 46.84,243.05 48.82,249.20 50.80,250.10 52.77,248.95 54.73,252.97 56.70,249.53 58.67,253.79 60.63,251.02 62.60,252.00 64.40,252.00 65.00,242.20 66.88,245.96 68.75,243.61 70.62,247.30 72.50,246.10 74.48,244.76 76.46,248.50 78.44,245.81 80.42,250.65 82.40,248.10 84.12,246.71 85.85,250.33 87.58,246.72 89.30,250.79 91.03,246.14 92.75,251.93 94.48,249.23 96.20,250.10 98.02,251.83 99.83,249.14 101.65,252.85 103.47,249.71 105.28,254.43 107.10,250.38 108.92,255.29 110.73,252.53 112.55,256.43 114.37,253.17 116.18,255.64 118.00,253.11 119.82,257.61 121.63,255.38 123.45,258.07 125.27,254.71 127.08,258.62 128.90,258.00 129.70,241.20 131.48,240.57 133.26,243.82 135.04,240.12 136.82,245.31 138.61,240.84 140.39,247.43 142.17,243.74 143.95,247.35 145.73,244.33 147.51,247.87 149.29,245.54 151.07,248.35 152.86,244.57 154.64,249.57 156.42,246.49 158.20,249.10" fill="none" stroke="#a400e2" stroke-width="1.1" stroke-linejoin="round"/>
<polyline points="35.00,223.50 36.65,225.55 38.30,230.00 40.03,236.45 41.77,232.91 43.50,236.60 45.15,239.83 46.80,235.59 48.45,244.79 50.10,241.90 52.80,248.50 54.75,248.90 56.70,254.40 58.35,255.95 60.00,248.52 61.65,254.42 63.30,249.80 64.40,250.00 65.10,220.00 66.73,216.83 68.37,225.39 70.00,223.50 72.00,220.59 74.00,227.42 76.00,225.00 77.75,220.97 79.50,230.04 81.25,223.16 83.00,226.50 84.67,229.71 86.33,227.60 88.00,231.50 90.00,235.23 92.00,230.17 94.00,234.41 96.00,233.50 98.00,229.93 100.00,236.25 102.00,233.67 104.00,236.50 106.00,239.99 108.00,235.03 110.00,240.00 112.00,244.08 114.00,240.38 116.00,243.85 118.00,243.00 120.00,242.79 122.00,250.29 124.00,247.00 125.63,245.04 127.27,251.13 128.90,250.50 129.70,222.00 131.80,219.54 133.90,227.34 136.00,225.00 137.68,221.41 139.36,228.57 141.04,224.32 142.72,228.45 144.40,226.50 146.27,226.16 148.13,229.80 150.00,229.00 151.67,226.37 153.33,235.96 155.00,236.00 156.60,236.73 158.20,243.00" fill="none" stroke="#781aa6" stroke-width="1.1" stroke-linejoin="round"/>
<polyline points="212.00,113.50 213.82,112.49 215.65,109.48 217.48,110.76 219.30,107.80 221.12,105.81 222.95,108.46 224.78,105.97 226.60,106.20 228.43,106.48 230.25,104.79 232.07,105.62 233.90,105.00 235.83,103.74 237.77,105.76 239.70,104.00 241.20,105.11 242.70,107.50 244.15,109.88 245.60,110.00 247.22,108.64 248.85,111.09 250.47,109.13 252.10,109.20 253.92,109.07 255.75,108.08 257.57,109.70 259.40,107.80 261.13,107.44 262.87,108.28 264.60,106.66 266.33,109.04 268.07,106.44 269.80,109.20 271.53,106.52 273.27,108.97 275.00,107.80 276.81,106.40 278.62,107.63 280.43,105.03 282.24,106.36 284.05,104.46 285.86,105.63 287.67,104.85 289.48,105.98 291.29,102.83 293.10,104.00 294.88,104.81 296.65,103.06 298.43,104.70 300.21,103.03 301.98,104.71 303.76,102.75 305.54,104.56 307.32,102.65 309.09,104.98 310.87,102.51 312.65,104.37 314.42,102.72 316.20,103.50 317.98,103.13 319.76,101.15 321.55,102.28 323.33,100.32 325.11,101.12 326.89,97.66 328.67,99.17 330.45,96.38 332.24,98.08 334.02,95.94 335.80,95.50" fill="none" stroke="#c0c0f8" stroke-width="0.8" stroke-linejoin="round"/>
<polyline points="212.00,113.50 213.82,110.36 215.65,110.40 217.48,107.97 219.30,107.00 221.12,107.04 222.95,105.60 224.78,106.41 226.60,105.40 228.43,104.62 230.25,105.83 232.07,103.36 233.90,104.00 235.83,104.74 237.77,102.92 239.70,103.00 241.20,105.56 242.70,106.50 244.15,107.11 245.60,109.30 247.22,109.95 248.85,107.93 250.47,109.46 252.10,108.40 253.92,106.23 255.75,107.90 257.57,105.79 259.40,106.60 261.13,107.76 262.87,105.88 264.60,107.75 266.33,105.57 268.07,107.13 269.80,106.29 271.53,107.81 273.27,105.85 275.00,106.50 276.81,107.32 278.62,105.08 280.43,106.25 282.24,104.04 284.05,105.88 285.86,103.11 287.67,104.13 289.48,101.96 291.29,103.24 293.10,102.40 294.88,101.30 296.65,103.40 298.43,101.74 300.21,104.03 301.98,101.22 303.76,103.16 305.54,101.56 307.32,102.73 309.09,101.88 310.87,103.47 312.65,101.34 314.42,103.08 316.20,102.40 317.98,101.41 319.76,102.76 321.55,100.43 323.33,101.28 325.11,99.59 326.89,101.24 328.67,98.44 330.45,100.04 332.24,98.03 334.02,98.68 335.80,97.80" fill="none" stroke="#9c9cf2" stroke-width="0.8" stroke-linejoin="round"/>
<polyline points="212.00,113.50 213.80,111.97 215.60,108.30 217.57,106.81 219.53,107.49 221.50,105.80 223.42,104.71 225.33,105.69 227.25,103.60 229.17,104.50 231.08,101.75 233.00,102.80 234.93,102.86 236.87,101.13 238.80,101.80 240.73,99.97 242.67,101.28 244.60,99.80 246.52,99.07 248.43,100.38 250.35,98.16 252.27,100.33 254.18,98.07 256.10,99.30 258.02,99.96 259.93,97.84 261.85,98.38 263.77,96.83 265.68,98.06 267.60,96.80 270.00,96.30 271.78,95.06 273.55,96.83 275.33,94.03 277.11,95.62 278.88,93.40 280.66,95.12 282.44,92.51 284.22,93.67 285.99,91.34 287.77,93.39 289.55,90.74 291.32,92.08 293.10,91.00 294.88,90.50 296.65,91.43 298.43,89.48 300.21,90.47 301.98,88.71 303.76,90.19 305.54,88.36 307.32,89.57 309.09,87.79 310.87,89.34 312.65,86.60 314.42,89.16 316.20,87.50 318.12,85.62 320.03,87.54 321.95,85.00 323.87,86.52 325.78,83.75 327.70,84.10 329.73,83.23 331.75,80.61 333.77,81.42 335.80,79.40" fill="none" stroke="#3a3ad0" stroke-width="0.9" stroke-linejoin="round"/>
<polyline points="212.00,113.50 213.80,111.10 215.60,107.00 217.57,105.50 219.53,106.58 221.50,104.50 223.42,103.24 225.33,104.21 227.25,102.37 229.17,103.56 231.08,100.97 233.00,101.50 234.93,101.30 236.87,99.35 238.80,100.49 240.73,98.71 242.67,100.12 244.60,98.50 246.52,98.28 248.43,99.16 250.35,97.59 252.27,98.80 254.18,96.58 256.10,98.00 258.02,98.60 259.93,96.83 261.85,98.04 263.77,96.05 265.68,96.71 267.60,95.50 270.00,95.00 271.78,93.10 273.55,95.26 275.33,93.40 277.11,94.04 278.88,92.36 280.66,93.07 282.44,91.45 284.22,92.63 285.99,90.19 287.77,91.54 289.55,90.09 291.32,91.26 293.10,89.70 294.88,88.62 296.65,89.87 298.43,88.21 300.21,89.23 301.98,87.28 303.76,88.36 305.54,87.16 307.32,88.77 309.09,86.58 310.87,88.22 312.65,85.95 314.42,87.50 316.20,86.20 318.12,84.46 320.03,85.97 321.95,83.17 323.87,84.11 325.78,82.68 327.70,82.80 329.73,82.44 331.75,79.62 333.77,79.93 335.80,78.10" fill="none" stroke="#1a1ae2" stroke-width="0.9" stroke-linejoin="round"/>
<polyline points="212.00,113.50 214.20,105.00 215.90,101.05 217.60,102.90 219.30,99.00 220.75,93.71 222.20,95.00 224.05,94.43 225.90,91.50 227.70,89.38 229.50,88.50 231.70,89.91 233.90,86.10 235.58,83.62 237.26,87.84 238.94,84.28 240.62,87.72 242.30,86.10 243.83,82.95 245.37,82.22 246.90,79.20 248.74,75.16 250.58,76.09 252.42,68.94 254.26,71.79 256.10,67.60 257.94,65.18 259.78,65.63 261.62,60.12 263.46,62.87 265.30,58.40 266.87,56.76 268.43,60.52 270.00,59.70 271.92,56.88 273.83,60.72 275.75,55.66 277.67,57.51 279.58,55.22 281.50,56.20 283.43,56.24 285.37,52.05 287.30,56.53 289.23,52.18 291.17,54.54 293.10,52.00 294.83,48.56 296.55,52.62 298.27,47.90 300.00,49.00 301.53,49.47 303.07,45.40 304.60,46.00 306.17,47.92 307.73,42.87 309.30,44.50 311.50,43.00 313.40,33.50 314.93,36.31 316.47,30.51 318.00,33.00 319.70,34.25 321.40,27.77 323.10,28.50 324.63,28.84 326.17,23.80 327.70,25.50 329.73,25.65 331.75,19.18 333.77,19.66 335.80,16.90" fill="none" stroke="#1a1ac4" stroke-width="1.15" stroke-linejoin="round"/>
<polyline points="212.00,270.50 214.00,269.39 216.00,269.99 218.00,268.33 220.00,268.58 222.00,267.00 223.83,265.91 225.67,267.03 227.50,265.41 229.33,265.51 231.17,264.57 233.00,264.50 234.83,265.00 236.65,263.62 238.48,265.16 240.30,263.84 242.13,265.03 243.96,263.83 245.78,264.98 247.61,263.70 249.43,265.28 251.26,263.82 253.09,265.04 254.91,263.97 256.74,264.96 258.57,264.11 260.39,264.96 262.22,263.90 264.04,265.17 265.87,264.28 267.70,264.94 269.52,263.86 271.35,264.72 273.17,264.53 275.00,264.50 276.81,265.08 278.62,263.64 280.43,264.83 282.24,263.58 284.05,264.99 285.86,263.31 287.67,264.03 289.48,263.22 291.29,264.44 293.10,263.60 294.96,263.28 296.81,263.83 298.67,262.68 300.53,263.77 302.38,262.74 304.24,263.82 306.10,262.22 307.95,263.04 309.81,262.22 311.67,262.64 313.52,261.99 315.38,263.29 317.23,261.30 319.09,262.91 320.95,261.75 322.80,262.00 324.66,261.46 326.52,262.19 328.37,261.23 330.23,261.71 332.09,260.80 333.94,261.60 335.80,261.20" fill="none" stroke="#f0c4fa" stroke-width="0.8" stroke-linejoin="round"/>
<polyline points="212.00,270.50 214.00,268.75 216.00,268.33 218.00,265.45 220.00,265.00 221.86,265.35 223.71,263.00 225.57,264.11 227.43,261.63 229.29,263.56 231.14,260.63 233.00,261.00 234.78,261.93 236.55,260.32 238.33,261.29 240.11,260.73 241.88,261.56 243.66,259.72 245.44,261.45 247.22,260.65 248.99,261.40 250.77,260.06 252.55,261.81 254.32,259.46 256.10,261.00 257.99,262.02 259.88,259.95 261.77,260.75 263.66,259.41 265.55,261.44 267.44,258.16 269.33,260.34 271.22,258.90 273.11,259.95 275.00,258.70 276.81,258.21 278.62,258.44 280.43,257.60 282.24,257.99 284.05,256.68 285.86,257.41 287.67,255.69 289.48,257.33 291.29,254.93 293.10,255.50 294.88,255.79 296.65,253.98 298.43,255.35 300.21,253.71 301.98,254.78 303.76,253.62 305.54,254.52 307.32,253.15 309.09,254.02 310.87,251.71 312.65,253.28 314.42,251.79 316.20,252.00 317.98,252.04 319.76,250.19 321.55,251.47 323.33,249.46 325.11,251.18 326.89,248.98 328.67,251.00 330.45,248.22 332.24,250.01 334.02,247.47 335.80,248.50" fill="none" stroke="#dc9cf0" stroke-width="0.8" stroke-linejoin="round"/>
<polyline points="212.00,270.50 213.63,269.95 215.27,265.51 216.90,264.50 218.69,264.39 220.48,261.28 222.27,262.56 224.06,260.94 225.84,260.87 227.63,258.46 229.42,259.73 231.21,257.31 233.00,257.60 234.78,258.39 236.55,256.22 238.33,257.57 240.11,256.24 241.88,257.62 243.66,255.85 245.44,258.33 247.22,256.27 248.99,257.75 250.77,255.70 252.55,257.41 254.32,255.17 256.10,256.40 257.99,257.31 259.88,254.31 261.77,255.99 263.66,254.49 265.55,256.33 267.44,253.32 269.33,254.59 271.22,252.57 273.11,254.03 275.00,253.00 276.81,251.20 278.62,252.57 280.43,250.39 282.24,250.99 284.05,248.95 285.86,251.18 287.67,248.08 289.48,249.53 291.29,246.63 293.10,247.40 294.88,247.95 296.65,245.80 298.43,246.98 300.21,244.54 301.98,246.45 303.76,244.04 305.54,244.97 307.32,242.39 309.09,244.13 310.87,241.62 312.65,242.82 314.42,241.18 316.20,241.60 317.98,241.86 319.76,240.41 321.55,242.07 323.33,239.38 325.11,240.88 326.89,238.77 328.67,240.46 330.45,238.04 332.24,239.47 334.02,237.60 335.80,238.10" fill="none" stroke="#b955dd" stroke-width="0.9" stroke-linejoin="round"/>
<polyline points="212.00,270.50 213.63,267.59 215.27,267.18 216.90,264.00 218.74,260.90 220.58,262.53 222.42,257.20 224.26,258.71 226.10,256.00 227.82,253.09 229.55,254.59 231.28,250.25 233.00,251.00 234.93,251.99 236.87,248.21 238.80,250.69 240.73,247.92 242.67,250.99 244.60,248.50 246.52,247.00 248.43,249.54 250.35,246.27 252.27,248.82 254.18,245.97 256.10,246.00 257.99,246.58 259.88,243.91 261.77,246.95 263.66,243.73 265.55,246.19 267.44,242.77 269.33,245.09 271.22,242.14 273.11,244.20 275.00,242.60 276.81,241.26 278.62,243.23 280.43,239.38 282.24,241.05 284.05,238.48 285.86,240.42 287.67,237.95 289.48,240.32 291.29,236.57 293.10,237.00 294.88,237.99 296.65,235.65 298.43,237.66 300.21,233.97 301.98,237.20 303.76,233.74 305.54,235.54 307.32,232.60 309.09,235.87 310.87,231.73 312.65,234.15 314.42,231.45 316.20,232.40 317.98,234.13 319.76,230.00 321.55,232.78 323.33,229.22 325.11,231.15 326.89,228.65 328.67,230.45 330.45,227.78 332.24,229.52 334.02,225.58 335.80,226.60" fill="none" stroke="#a400e2" stroke-width="1.15" stroke-linejoin="round"/>
<polyline points="212.00,270.50 213.63,266.02 215.27,268.04 216.90,263.00 218.43,259.34 219.97,263.12 221.50,258.70 223.03,255.29 224.57,256.68 226.10,252.50 227.82,248.56 229.55,250.57 231.28,244.55 233.00,244.00 234.57,248.99 236.13,243.59 237.70,248.50 239.42,249.45 241.15,243.57 242.88,247.00 244.60,242.00 246.52,238.89 248.43,242.44 250.35,237.37 252.27,241.84 254.18,238.54 256.10,240.30 257.94,242.41 259.78,235.79 261.62,239.71 263.46,232.39 265.30,234.50 266.87,236.63 268.43,235.31 270.00,237.00 271.92,238.31 273.83,232.14 275.75,235.56 277.67,230.43 279.58,233.79 281.50,230.10 283.43,227.10 285.37,233.44 287.30,227.50 289.23,231.48 291.17,226.08 293.10,227.70 295.02,229.58 296.93,223.00 298.85,226.30 300.77,220.94 302.68,223.96 304.60,219.70 306.53,216.74 308.47,220.18 310.40,213.94 312.33,219.40 314.27,214.02 316.20,216.20 318.12,217.00 320.03,213.63 321.95,215.62 323.87,211.06 325.78,213.47 327.70,211.60 329.73,205.84 331.75,208.37 333.77,201.95 335.80,201.20" fill="none" stroke="#781aa6" stroke-width="1.1" stroke-linejoin="round"/>
<polyline points="388.00,113.50 389.75,112.39 391.50,110.33 393.25,109.59 395.00,108.00 397.00,106.79 399.00,107.50 401.00,105.78 403.00,106.33 405.00,105.50 406.88,104.77 408.75,105.05 410.62,103.13 412.50,103.20 414.20,104.52 415.90,104.86 417.60,106.10 419.30,105.94 421.00,107.50 422.75,107.86 424.50,106.60 426.25,107.25 428.00,106.20 429.75,107.09 431.50,105.48 433.25,106.61 435.00,106.00 437.00,105.24 439.00,105.93 441.00,105.04 443.00,106.03 445.00,105.50 446.81,105.17 448.61,106.03 450.42,103.91 452.22,104.69 454.03,104.01 455.84,104.62 457.64,103.64 459.45,104.50 461.25,103.32 463.06,103.47 464.86,102.72 466.67,103.27 468.48,102.28 470.28,102.81 472.09,101.60 473.89,102.72 475.70,102.00 477.73,102.18 479.75,103.21 481.77,102.32 483.80,103.00 485.57,103.37 487.35,102.82 489.12,103.17 490.89,102.61 492.67,102.69 494.44,101.72 496.21,102.71 497.99,101.69 499.76,102.55 501.53,101.75 503.31,102.39 505.08,101.86 506.85,102.51 508.63,101.20 510.40,101.50" fill="none" stroke="#c0c0f8" stroke-width="0.8" stroke-linejoin="round"/>
<polyline points="388.00,113.50 390.00,113.03 392.00,111.38 394.00,110.97 396.00,108.49 398.00,108.50 399.75,108.52 401.50,107.64 403.25,108.17 405.00,106.88 406.75,107.57 408.50,106.61 410.25,106.97 412.00,106.50 413.86,106.02 415.71,107.67 417.57,106.57 419.43,107.82 421.29,106.73 423.14,108.49 425.00,108.00 426.82,107.64 428.64,108.49 430.45,107.41 432.27,108.10 434.09,106.97 435.91,108.35 437.73,106.89 439.55,107.47 441.36,106.73 443.18,107.60 445.00,107.00 446.81,106.07 448.61,107.09 450.42,105.86 452.22,106.31 454.03,105.72 455.84,106.58 457.64,105.28 459.45,106.12 461.25,104.96 463.06,105.66 464.86,104.79 466.67,106.15 468.48,104.31 470.28,105.03 472.09,104.75 473.89,105.15 475.70,104.50 477.53,104.16 479.35,105.30 481.18,104.08 483.01,104.94 484.83,103.31 486.66,104.39 488.48,103.37 490.31,104.36 492.14,102.82 493.96,104.08 495.79,102.85 497.62,104.30 499.44,102.63 501.27,103.19 503.09,102.04 504.92,103.14 506.75,102.61 508.57,102.53 510.40,102.50" fill="none" stroke="#9c9cf2" stroke-width="0.8" stroke-linejoin="round"/>
<polyline points="388.00,113.50 389.71,112.86 391.43,112.91 393.14,111.63 394.86,111.74 396.57,110.54 398.29,110.77 400.00,110.00 401.82,109.63 403.64,110.59 405.45,109.34 407.27,110.05 409.09,109.02 410.91,109.58 412.73,109.26 414.55,110.06 416.36,108.87 418.18,109.73 420.00,109.00 421.79,108.78 423.57,109.12 425.36,108.54 427.14,109.08 428.93,108.09 430.71,108.67 432.50,108.13 434.29,108.33 436.07,107.56 437.86,108.38 439.64,107.53 441.43,107.93 443.21,107.66 445.00,107.60 446.82,107.70 448.63,106.74 450.45,107.60 452.27,106.95 454.08,107.43 455.90,106.42 457.72,107.46 459.53,106.62 461.35,107.02 463.17,106.22 464.98,107.29 466.80,106.62 468.62,106.73 470.43,105.80 472.25,106.85 474.07,105.96 475.88,106.56 477.70,105.67 479.52,106.02 481.33,105.27 483.15,106.24 484.97,105.57 486.78,106.29 488.60,105.36 490.42,105.80 492.23,104.77 494.05,105.89 495.87,104.43 497.68,105.59 499.50,104.57 501.32,105.21 503.13,104.63 504.95,105.05 506.77,104.21 508.58,104.70 510.40,104.50" fill="none" stroke="#6464ee" stroke-width="0.8" stroke-linejoin="round"/>
<polyline points="388.00,113.50 389.71,112.66 391.43,112.74 393.14,112.36 394.86,112.38 396.57,111.51 398.29,111.50 400.00,111.00 401.82,110.43 403.64,111.57 405.45,109.99 407.27,110.95 409.09,110.60 410.91,110.97 412.73,110.60 414.55,111.04 416.36,110.00 418.18,111.02 420.00,110.50 421.79,109.92 423.57,110.43 425.36,110.15 427.14,110.26 428.93,109.65 430.71,110.33 432.50,109.36 434.29,109.95 436.07,108.98 437.86,110.18 439.64,108.97 441.43,109.63 443.21,108.89 445.00,109.10 446.82,109.36 448.63,108.79 450.45,109.16 452.27,108.49 454.08,109.38 455.90,108.21 457.72,108.71 459.53,108.12 461.35,109.01 463.17,108.08 464.98,108.65 466.80,107.52 468.62,108.34 470.43,107.57 472.25,108.43 474.07,107.25 475.88,107.77 477.70,106.99 479.52,107.89 481.33,106.96 483.15,107.60 484.97,106.68 486.78,107.33 488.60,106.57 490.42,107.43 492.23,106.34 494.05,106.81 495.87,106.55 497.68,107.11 499.50,106.37 501.32,106.65 503.13,105.65 504.95,106.28 506.77,105.77 508.58,106.40 510.40,106.00" fill="none" stroke="#1a1ac4" stroke-width="0.8" stroke-linejoin="round"/>
<polyline points="388.00,113.50 389.78,112.76 391.56,113.36 393.33,111.93 395.11,112.47 396.89,111.12 398.67,111.36 400.44,109.81 402.22,110.60 404.00,109.40 405.77,108.97 407.55,109.43 409.32,108.53 411.10,109.51 412.88,108.15 414.65,108.91 416.43,107.95 418.20,108.50 419.85,108.46 421.50,106.90 423.15,107.21 424.80,106.10 426.70,105.39 428.60,105.50 430.50,103.96 432.40,104.20 434.30,104.01 436.20,103.48 438.10,103.84 440.00,102.64 441.90,102.80 443.92,103.33 445.95,102.18 447.98,103.21 450.00,102.60 451.72,102.16 453.43,103.03 455.15,101.81 456.87,102.58 458.58,101.31 460.30,101.50 462.23,101.74 464.15,100.71 466.07,101.45 468.00,100.31 469.93,100.71 471.85,99.35 473.77,99.72 475.70,99.40 477.40,98.77 479.10,99.67 480.80,98.26 482.50,99.21 484.20,97.65 485.90,98.40 487.60,98.33 489.30,97.32 491.00,96.90 492.70,97.21 494.40,96.12 496.10,96.47 497.80,94.90 499.50,95.92 501.20,95.30 503.14,94.37 505.08,95.12 507.02,93.81 508.96,95.08 510.90,93.80" fill="none" stroke="#1a1ae2" stroke-width="0.9" stroke-linejoin="round"/>
<polyline points="387.80,270.50 390.50,268.56 392.00,267.60 393.50,266.63 395.25,265.43 397.00,264.88 399.00,264.39 401.00,263.97 402.67,263.31 404.33,264.44 406.00,263.57 407.89,263.41 409.78,264.06 411.67,262.60 413.56,264.49 415.44,263.12 417.33,264.33 419.22,263.52 421.11,264.01 423.00,263.52 424.90,263.29 426.80,263.96 428.70,263.25 430.60,263.73 432.50,262.91 434.40,263.01 436.30,263.38 438.20,263.45 440.10,263.01 442.00,262.91 443.90,262.68 445.80,261.84 447.70,263.45 449.60,262.42 451.50,263.07 453.40,262.63 455.30,262.74 457.20,261.80 459.10,262.48 461.00,262.40 462.89,262.65 464.78,262.79 466.67,261.88 468.56,262.00 470.45,261.76 472.34,262.05 474.23,260.75 476.12,261.75 478.01,260.38 479.90,261.18 481.79,261.70 483.67,260.38 485.56,260.78 487.45,260.04 489.34,260.65 491.23,260.11 493.11,260.21 495.00,260.19 496.90,259.58 498.80,260.42 500.70,259.57 502.60,260.54 504.50,258.91 506.40,260.11 508.30,258.69 510.20,259.00" fill="none" stroke="#f0c4fa" stroke-width="0.9" stroke-linejoin="round"/>
<polyline points="387.80,270.50 390.50,268.69 392.00,268.08 393.50,266.89 395.25,266.23 397.00,265.27 399.00,263.81 401.00,264.37 402.67,264.66 404.33,263.57 406.00,263.94 407.89,264.37 409.78,263.59 411.67,264.14 413.56,263.68 415.44,264.16 417.33,262.54 419.22,264.77 421.11,263.40 423.00,263.76 424.90,264.30 426.80,263.27 428.70,264.08 430.60,263.12 432.50,264.09 434.40,263.12 436.30,263.47 438.20,262.41 440.10,263.84 442.00,263.01 443.90,262.33 445.80,263.06 447.70,263.04 449.60,263.24 451.50,262.49 453.40,262.56 455.30,261.81 457.20,263.35 459.10,261.98 461.00,262.36 462.89,262.19 464.78,261.65 466.67,261.78 468.56,261.21 470.45,262.29 472.34,261.04 474.23,261.43 476.12,260.60 478.01,261.53 479.90,261.00 481.79,260.41 483.67,261.06 485.56,260.27 487.45,260.57 489.34,259.89 491.23,259.97 493.11,259.13 495.00,259.90 496.90,260.12 498.80,259.15 500.70,259.95 502.60,259.25 504.50,259.56 506.40,258.80 508.30,259.19 510.20,258.60" fill="none" stroke="#dc9cf0" stroke-width="0.9" stroke-linejoin="round"/>
<polyline points="387.80,270.50 390.50,268.90 392.00,267.58 393.50,267.31 395.25,267.05 397.00,265.91 399.00,265.23 401.00,265.02 402.67,265.43 404.33,264.41 406.00,264.53 407.89,265.00 409.78,263.81 411.67,264.90 413.56,263.67 415.44,264.87 417.33,263.81 419.22,265.25 421.11,264.22 423.00,264.16 424.90,264.45 426.80,263.16 428.70,264.65 430.60,263.36 432.50,264.42 434.40,263.20 436.30,263.44 438.20,262.84 440.10,264.20 442.00,263.19 443.90,262.71 445.80,263.41 447.70,262.43 449.60,263.55 451.50,262.83 453.40,263.27 455.30,262.66 457.20,262.95 459.10,261.84 461.00,262.32 462.89,262.59 464.78,261.71 466.67,262.34 468.56,261.21 470.45,261.61 472.34,260.69 474.23,261.61 476.12,260.80 478.01,261.93 479.90,260.75 481.79,259.63 483.67,260.24 485.56,259.68 487.45,260.52 489.34,259.31 491.23,260.22 493.11,258.90 495.00,259.48 496.90,259.21 498.80,258.55 500.70,259.27 502.60,258.74 504.50,259.02 506.40,257.76 508.30,258.99 510.20,258.00" fill="none" stroke="#b955dd" stroke-width="0.9" stroke-linejoin="round"/>
<polyline points="387.80,270.50 390.50,269.03 392.00,267.14 393.50,267.56 395.25,267.45 397.00,266.29 399.00,266.08 401.00,265.39 402.67,265.40 404.33,265.22 406.00,264.85 407.89,265.56 409.78,264.44 411.67,265.08 413.56,264.70 415.44,265.09 417.33,263.92 419.22,264.81 421.11,263.48 423.00,264.31 424.90,264.56 426.80,263.47 428.70,263.74 430.60,262.83 432.50,264.27 434.40,263.46 436.30,263.86 438.20,263.59 440.10,263.89 442.00,263.16 443.90,263.15 445.80,263.69 447.70,262.66 449.60,263.05 451.50,261.78 453.40,263.15 455.30,262.19 457.20,262.75 459.10,262.44 461.00,262.10 462.89,263.17 464.78,261.09 466.67,262.13 468.56,261.34 470.45,261.33 472.34,260.39 474.23,260.99 476.12,260.33 478.01,261.60 479.90,260.35 481.79,260.32 483.67,260.15 485.56,258.85 487.45,260.59 489.34,259.22 491.23,259.46 493.11,258.17 495.00,258.92 496.90,259.22 498.80,258.47 500.70,258.48 502.60,257.51 504.50,257.91 506.40,256.88 508.30,257.74 510.20,257.30" fill="none" stroke="#a400e2" stroke-width="0.9" stroke-linejoin="round"/>
<polyline points="387.80,270.50 390.50,269.11 392.00,268.62 393.50,267.71 395.25,266.23 397.00,266.51 399.00,266.64 401.00,265.61 402.67,265.41 404.33,265.96 406.00,265.03 407.89,264.43 409.78,265.30 411.67,264.40 413.56,264.85 415.44,264.53 417.33,264.93 419.22,264.23 421.11,264.33 423.00,264.38 424.90,264.35 426.80,264.93 428.70,264.34 430.60,264.57 432.50,263.41 434.40,264.07 436.30,263.11 438.20,263.33 440.10,262.58 442.00,263.10 443.90,263.38 445.80,262.11 447.70,263.53 449.60,261.62 451.50,262.85 453.40,261.14 455.30,263.00 457.20,261.31 459.10,262.71 461.00,261.92 462.89,260.50 464.78,262.28 466.67,260.61 468.56,261.63 470.45,260.08 472.34,260.80 474.23,260.15 476.12,261.16 478.01,259.64 479.90,260.05 481.79,260.29 483.67,259.36 485.56,260.25 487.45,259.19 489.34,260.08 491.23,258.98 493.11,258.74 495.00,258.52 496.90,257.64 498.80,258.41 500.70,257.55 502.60,258.66 504.50,257.00 506.40,257.70 508.30,256.56 510.20,256.80" fill="none" stroke="#781aa6" stroke-width="0.9" stroke-linejoin="round"/>
<line x1="452.30" y1="25.30" x2="472.70" y2="25.30" stroke="#c0c0f8" stroke-width="1.0"/>
<text x="477.30" y="28.00" font-size="7.6" textLength="27.0" lengthAdjust="spacingAndGlyphs">1 Mouse</text>
<line x1="452.30" y1="35.30" x2="472.70" y2="35.30" stroke="#9c9cf2" stroke-width="1.0"/>
<text x="477.30" y="38.00" font-size="7.6" textLength="21.7" lengthAdjust="spacingAndGlyphs">2 Mice</text>
<line x1="452.30" y1="45.30" x2="472.70" y2="45.30" stroke="#6464ee" stroke-width="1.0"/>
<text x="477.30" y="48.00" font-size="7.6" textLength="21.7" lengthAdjust="spacingAndGlyphs">3 Mice</text>
<line x1="452.30" y1="55.30" x2="472.70" y2="55.30" stroke="#1a1ae2" stroke-width="1.0"/>
<text x="477.30" y="58.00" font-size="7.6" textLength="21.7" lengthAdjust="spacingAndGlyphs">4 Mice</text>
<line x1="452.30" y1="65.30" x2="472.70" y2="65.30" stroke="#1a1ac4" stroke-width="1.0"/>
<text x="477.30" y="68.00" font-size="7.6" textLength="21.7" lengthAdjust="spacingAndGlyphs">5 Mice</text>
<line x1="459.20" y1="187.50" x2="479.90" y2="187.50" stroke="#f0c4fa" stroke-width="1.0"/>
<text x="484.30" y="190.20" font-size="7.6" textLength="27.0" lengthAdjust="spacingAndGlyphs">1 Mouse</text>
<line x1="459.20" y1="197.45" x2="479.90" y2="197.45" stroke="#dc9cf0" stroke-width="1.0"/>
<text x="484.30" y="200.15" font-size="7.6" textLength="21.7" lengthAdjust="spacingAndGlyphs">2 Mice</text>
<line x1="459.20" y1="207.40" x2="479.90" y2="207.40" stroke="#b955dd" stroke-width="1.0"/>
<text x="484.30" y="210.10" font-size="7.6" textLength="21.7" lengthAdjust="spacingAndGlyphs">3 Mice</text>
<line x1="459.20" y1="217.35" x2="479.90" y2="217.35" stroke="#a400e2" stroke-width="1.0"/>
<text x="484.30" y="220.05" font-size="7.6" textLength="21.7" lengthAdjust="spacingAndGlyphs">4 Mice</text>
<line x1="459.20" y1="227.30" x2="479.90" y2="227.30" stroke="#781aa6" stroke-width="1.0"/>
<text x="484.30" y="230.00" font-size="7.6" textLength="21.7" lengthAdjust="spacingAndGlyphs">5 Mice</text>
<line x1="568.60" y1="113.50" x2="614.40" y2="56.30" stroke="#1a1ae2" stroke-width="0.9"/>
<line x1="565.30" y1="109.30" x2="614.10" y2="101.40" stroke="#5a5aee" stroke-width="1.0" stroke-dasharray="3,2.2"/>
<circle cx="565.30" cy="107.44" r="2.1" fill="#1a1ae2"/>
<circle cx="577.50" cy="106.22" r="2.1" fill="#1a1ae2"/>
<circle cx="589.70" cy="91.19" r="2.1" fill="#1a1ae2"/>
<circle cx="601.90" cy="87.55" r="2.1" fill="#1a1ae2"/>
<circle cx="614.10" cy="40.75" r="2.1" fill="#1a1ae2"/>
<circle cx="577.50" cy="109.86" r="2.1" fill="#5a5aee"/>
<circle cx="589.70" cy="106.22" r="2.1" fill="#5a5aee"/>
<circle cx="601.90" cy="106.95" r="2.1" fill="#5a5aee"/>
<circle cx="614.10" cy="98.95" r="2.1" fill="#5a5aee"/>
<line x1="624.20" y1="64.60" x2="644.70" y2="64.60" stroke="#1a1ae2" stroke-width="1.0"/>
<circle cx="634.4" cy="64.6" r="2.1" fill="#1a1ae2"/>
<line x1="624.20" y1="75.10" x2="644.70" y2="75.10" stroke="#5a5aee" stroke-width="1.0" stroke-dasharray="3,2"/>
<circle cx="634.4" cy="75.1" r="2.1" fill="#5a5aee"/>
<text x="649.60" y="67.40" font-size="7.6" textLength="29.2" lengthAdjust="spacingAndGlyphs">Per cage</text>
<text x="649.60" y="77.90" font-size="7.6" textLength="35.5" lengthAdjust="spacingAndGlyphs">Per mouse</text>
<text x="574.2" y="18.9" font-size="7.5" fill="#3030ee" stroke="#3030ee" stroke-width="0.1">Slope = 0.63</text>
<text x="574.2" y="29.2" font-size="7.5" fill="#3030ee" stroke="#3030ee" stroke-width="0.1"><tspan font-style="italic">R</tspan><tspan font-size="4.8" dy="-3">2</tspan><tspan dy="3"> = 0.78</tspan></text>
<text x="574.2" y="38.3" font-size="7.5" fill="#3030ee" stroke="#3030ee" stroke-width="0.1"><tspan font-style="italic">P</tspan> &lt; 0.05</text>
<text x="633.2" y="94.2" font-size="7.5" fill="#3030ee" stroke="#3030ee" stroke-width="0.1">Slope = 0.08</text>
<text x="633.2" y="104.6" font-size="7.5" fill="#3030ee" stroke="#3030ee" stroke-width="0.1"><tspan font-style="italic">R</tspan><tspan font-size="4.8" dy="-3">2</tspan><tspan dy="3"> = 0.57</tspan></text>
<text x="633.2" y="113.4" font-size="7.5" fill="#3030ee" stroke="#3030ee" stroke-width="0.1">NS</text>
<line x1="565.30" y1="263.40" x2="614.10" y2="202.20" stroke="#a400e2" stroke-width="0.9"/>
<line x1="565.30" y1="263.40" x2="614.10" y2="256.50" stroke="#b040e0" stroke-width="1.0" stroke-dasharray="3,2.2"/>
<circle cx="565.30" cy="263.16" r="2.1" fill="#a400e2"/>
<circle cx="577.50" cy="250.02" r="2.1" fill="#a400e2"/>
<circle cx="589.70" cy="233.79" r="2.1" fill="#a400e2"/>
<circle cx="601.90" cy="226.06" r="2.1" fill="#a400e2"/>
<circle cx="614.10" cy="195.15" r="2.1" fill="#a400e2"/>
<circle cx="577.50" cy="260.45" r="2.1" fill="#b850e6"/>
<circle cx="589.70" cy="258.52" r="2.1" fill="#b850e6"/>
<circle cx="601.90" cy="259.68" r="2.1" fill="#b850e6"/>
<circle cx="614.10" cy="255.82" r="2.1" fill="#b850e6"/>
<line x1="621.20" y1="214.90" x2="641.90" y2="214.90" stroke="#a400e2" stroke-width="1.0"/>
<circle cx="631.6" cy="214.9" r="2.1" fill="#a400e2"/>
<line x1="621.20" y1="227.40" x2="641.90" y2="227.40" stroke="#b850e6" stroke-width="1.0" stroke-dasharray="3,2"/>
<circle cx="631.6" cy="227.4" r="2.1" fill="#b850e6"/>
<text x="646.80" y="217.90" font-size="7.6" textLength="29.3" lengthAdjust="spacingAndGlyphs">Per cage</text>
<text x="646.80" y="230.30" font-size="7.6" textLength="35.1" lengthAdjust="spacingAndGlyphs">Per mouse</text>
<text x="573.5" y="175.8" font-size="7.5" fill="#a030dd" stroke="#a030dd" stroke-width="0.1">Slope = 0.41</text>
<text x="573.5" y="186.2" font-size="7.5" fill="#a030dd" stroke="#a030dd" stroke-width="0.1"><tspan font-style="italic">R</tspan><tspan font-size="4.8" dy="-3">2</tspan><tspan dy="3"> = 0.96</tspan></text>
<text x="573.5" y="195.8" font-size="7.5" fill="#a030dd" stroke="#a030dd" stroke-width="0.1"><tspan font-style="italic">P</tspan> &lt; 0.01</text>
<text x="633.5" y="246.2" font-size="7.5" fill="#a030dd" stroke="#a030dd" stroke-width="0.1">Slope = 0.04</text>
<text x="633.5" y="256.5" font-size="7.5" fill="#a030dd" stroke="#a030dd" stroke-width="0.1"><tspan font-style="italic">R</tspan><tspan font-size="4.8" dy="-3">2</tspan><tspan dy="3"> = 0.84</tspan></text>
<text x="633.5" y="265.4" font-size="7.5" fill="#a030dd" stroke="#a030dd" stroke-width="0.1"><tspan font-style="italic">P</tspan> &lt; 0.05</text>
<polygon points="35.00,415.50 36.99,414.90 38.98,414.30 40.96,413.70 42.95,413.08 44.94,412.47 46.92,411.84 48.91,411.20 50.90,410.56 52.89,409.90 54.88,409.22 56.86,408.53 58.85,407.83 60.84,407.10 62.83,406.35 64.81,405.57 66.80,404.78 68.79,403.96 70.78,403.12 72.76,402.27 74.75,401.39 76.74,400.50 78.72,399.60 80.71,398.69 82.70,397.77 84.69,396.84 86.67,395.90 88.66,394.96 90.65,394.01 92.64,393.06 94.62,392.10 96.61,391.15 98.60,390.18 100.59,389.22 102.58,388.26 104.56,387.29 106.55,386.32 108.54,385.35 110.53,384.37 112.51,383.40 114.50,382.43 114.50,393.97 112.51,394.55 110.53,395.13 108.54,395.70 106.55,396.28 104.56,396.86 102.58,397.44 100.59,398.03 98.60,398.62 96.61,399.20 94.62,399.80 92.64,400.39 90.65,400.99 88.66,401.59 86.67,402.20 84.69,402.81 82.70,403.43 80.71,404.06 78.72,404.70 76.74,405.35 74.75,406.01 72.76,406.68 70.78,407.38 68.79,408.09 66.80,408.82 64.81,409.58 62.83,410.35 60.84,411.15 58.85,411.97 56.86,412.82 54.88,413.68 52.89,414.55 50.90,415.44 48.91,416.35 46.92,417.26 44.94,418.18 42.95,419.12 40.96,420.05 38.98,421.00 36.99,421.95 35.00,422.90" fill="#bcbcfa"/>
<polyline points="35.00,415.13 36.99,414.55 38.98,413.97 40.96,413.38 42.95,412.78 44.94,412.18 46.92,411.57 48.91,410.95 50.90,410.31 52.89,409.66 54.88,409.00 56.86,408.32 58.85,407.62 60.84,406.89 62.83,406.15 64.81,405.37 66.80,404.58 68.79,403.75 70.78,402.91 72.76,402.04 74.75,401.16 76.74,400.26 78.72,399.35 80.71,398.42 82.70,397.48 84.69,396.54 86.67,395.59 88.66,394.63 90.65,393.66 92.64,392.69 94.62,391.72 96.61,390.74 98.60,389.76 100.59,388.78 102.58,387.80 104.56,386.81 106.55,385.82 108.54,384.83 110.53,383.84 112.51,382.84 114.50,381.85" fill="none" stroke="#2f2ff2" stroke-width="1.0" stroke-linejoin="round" stroke-dasharray="1.1,1.3"/>
<polyline points="35.00,423.27 36.99,422.30 38.98,421.33 40.96,420.37 42.95,419.42 44.94,418.47 46.92,417.53 48.91,416.60 50.90,415.69 52.89,414.79 54.88,413.90 56.86,413.03 58.85,412.18 60.84,411.36 62.83,410.55 64.81,409.78 66.80,409.02 68.79,408.30 70.78,407.59 72.76,406.91 74.75,406.24 76.74,405.59 78.72,404.95 80.71,404.33 82.70,403.72 84.69,403.11 86.67,402.51 88.66,401.92 90.65,401.34 92.64,400.76 94.62,400.18 96.61,399.61 98.60,399.04 100.59,398.47 102.58,397.90 104.56,397.34 106.55,396.78 108.54,396.22 110.53,395.66 112.51,395.11 114.50,394.55" fill="none" stroke="#2f2ff2" stroke-width="1.0" stroke-linejoin="round" stroke-dasharray="1.1,1.3"/>
<line x1="35.00" y1="419.20" x2="114.50" y2="388.20" stroke="#2a2ae0" stroke-width="0.9"/>
<circle cx="44.0" cy="390.8" r="1.12" fill="#0a0aff"/>
<circle cx="48.2" cy="387.5" r="1.12" fill="#0a0aff"/>
<circle cx="63.5" cy="383.1" r="1.12" fill="#0a0aff"/>
<circle cx="64.6" cy="387.1" r="1.12" fill="#0a0aff"/>
<circle cx="57.4" cy="392.3" r="1.12" fill="#0a0aff"/>
<circle cx="58.3" cy="398.7" r="1.12" fill="#0a0aff"/>
<circle cx="66.8" cy="396.3" r="1.12" fill="#0a0aff"/>
<circle cx="71.5" cy="394.8" r="1.12" fill="#0a0aff"/>
<circle cx="46.2" cy="405.3" r="1.12" fill="#0a0aff"/>
<circle cx="53.9" cy="404.4" r="1.12" fill="#0a0aff"/>
<circle cx="44.0" cy="408.0" r="1.12" fill="#0a0aff"/>
<circle cx="52.6" cy="407.5" r="1.12" fill="#0a0aff"/>
<circle cx="49.5" cy="409.7" r="1.12" fill="#0a0aff"/>
<circle cx="46.7" cy="409.7" r="1.12" fill="#0a0aff"/>
<circle cx="58.3" cy="408.0" r="1.12" fill="#0a0aff"/>
<circle cx="61.6" cy="408.0" r="1.12" fill="#0a0aff"/>
<circle cx="66.0" cy="406.4" r="1.12" fill="#0a0aff"/>
<circle cx="68.2" cy="407.5" r="1.12" fill="#0a0aff"/>
<circle cx="71.5" cy="406.4" r="1.12" fill="#0a0aff"/>
<circle cx="41.8" cy="414.1" r="1.12" fill="#0a0aff"/>
<circle cx="44.5" cy="413.0" r="1.12" fill="#0a0aff"/>
<circle cx="48.4" cy="412.4" r="1.12" fill="#0a0aff"/>
<circle cx="50.6" cy="413.0" r="1.12" fill="#0a0aff"/>
<circle cx="52.8" cy="411.9" r="1.12" fill="#0a0aff"/>
<circle cx="55.0" cy="412.4" r="1.12" fill="#0a0aff"/>
<circle cx="47.3" cy="415.2" r="1.12" fill="#0a0aff"/>
<circle cx="50.6" cy="415.2" r="1.12" fill="#0a0aff"/>
<circle cx="53.9" cy="415.7" r="1.12" fill="#0a0aff"/>
<circle cx="58.3" cy="416.8" r="1.12" fill="#0a0aff"/>
<circle cx="62.7" cy="414.1" r="1.12" fill="#0a0aff"/>
<circle cx="66.0" cy="411.9" r="1.12" fill="#0a0aff"/>
<circle cx="70.4" cy="411.9" r="1.12" fill="#0a0aff"/>
<circle cx="43.4" cy="417.9" r="1.12" fill="#0a0aff"/>
<circle cx="46.2" cy="418.5" r="1.12" fill="#0a0aff"/>
<circle cx="49.5" cy="417.9" r="1.12" fill="#0a0aff"/>
<circle cx="51.7" cy="419.6" r="1.12" fill="#0a0aff"/>
<circle cx="55.0" cy="419.6" r="1.12" fill="#0a0aff"/>
<circle cx="43.4" cy="421.2" r="1.12" fill="#0a0aff"/>
<circle cx="46.7" cy="421.8" r="1.12" fill="#0a0aff"/>
<circle cx="49.5" cy="421.8" r="1.12" fill="#0a0aff"/>
<circle cx="52.2" cy="423.4" r="1.12" fill="#0a0aff"/>
<circle cx="44.0" cy="424.0" r="1.12" fill="#0a0aff"/>
<circle cx="46.7" cy="423.4" r="1.12" fill="#0a0aff"/>
<circle cx="45.6" cy="426.7" r="1.12" fill="#0a0aff"/>
<circle cx="47.3" cy="426.2" r="1.12" fill="#0a0aff"/>
<circle cx="82.5" cy="370.7" r="1.12" fill="#0a0aff"/>
<circle cx="89.1" cy="381.2" r="1.12" fill="#0a0aff"/>
<circle cx="87.8" cy="383.9" r="1.12" fill="#0a0aff"/>
<circle cx="80.6" cy="385.2" r="1.12" fill="#0a0aff"/>
<circle cx="101.7" cy="383.9" r="1.12" fill="#0a0aff"/>
<circle cx="94.4" cy="385.2" r="1.12" fill="#0a0aff"/>
<circle cx="85.8" cy="387.2" r="1.12" fill="#0a0aff"/>
<circle cx="91.8" cy="388.5" r="1.12" fill="#0a0aff"/>
<circle cx="97.7" cy="387.8" r="1.12" fill="#0a0aff"/>
<circle cx="89.1" cy="389.8" r="1.12" fill="#0a0aff"/>
<circle cx="71.3" cy="394.4" r="1.12" fill="#0a0aff"/>
<circle cx="74.0" cy="394.4" r="1.12" fill="#0a0aff"/>
<circle cx="75.3" cy="395.7" r="1.12" fill="#0a0aff"/>
<circle cx="72.6" cy="398.4" r="1.12" fill="#0a0aff"/>
<circle cx="85.8" cy="393.7" r="1.12" fill="#0a0aff"/>
<circle cx="89.8" cy="394.4" r="1.12" fill="#0a0aff"/>
<circle cx="79.9" cy="399.0" r="1.12" fill="#0a0aff"/>
<circle cx="83.9" cy="398.4" r="1.12" fill="#0a0aff"/>
<circle cx="87.8" cy="399.7" r="1.12" fill="#0a0aff"/>
<circle cx="91.8" cy="399.7" r="1.12" fill="#0a0aff"/>
<circle cx="88.5" cy="401.7" r="1.12" fill="#0a0aff"/>
<circle cx="108.9" cy="394.4" r="1.12" fill="#0a0aff"/>
<circle cx="114.9" cy="403.6" r="1.12" fill="#0a0aff"/>
<circle cx="70.0" cy="406.9" r="1.12" fill="#0a0aff"/>
<circle cx="72.0" cy="409.6" r="1.12" fill="#0a0aff"/>
<circle cx="70.7" cy="411.6" r="1.12" fill="#0a0aff"/>
<circle cx="75.9" cy="412.2" r="1.12" fill="#0a0aff"/>
<circle cx="87.8" cy="405.6" r="1.12" fill="#0a0aff"/>
<circle cx="91.1" cy="405.6" r="1.12" fill="#0a0aff"/>
<circle cx="81.9" cy="408.9" r="1.12" fill="#0a0aff"/>
<circle cx="86.5" cy="408.3" r="1.12" fill="#0a0aff"/>
<circle cx="89.1" cy="408.9" r="1.12" fill="#0a0aff"/>
<circle cx="93.1" cy="409.6" r="1.12" fill="#0a0aff"/>
<circle cx="95.7" cy="409.6" r="1.12" fill="#0a0aff"/>
<circle cx="97.0" cy="409.6" r="1.12" fill="#0a0aff"/>
<circle cx="101.7" cy="407.6" r="1.12" fill="#0a0aff"/>
<circle cx="81.9" cy="412.9" r="1.12" fill="#0a0aff"/>
<circle cx="87.2" cy="413.5" r="1.12" fill="#0a0aff"/>
<circle cx="88.5" cy="412.2" r="1.12" fill="#0a0aff"/>
<circle cx="83.2" cy="416.8" r="1.12" fill="#0a0aff"/>
<circle cx="89.1" cy="417.5" r="1.12" fill="#0a0aff"/>
<circle cx="93.7" cy="415.5" r="1.12" fill="#0a0aff"/>
<circle cx="95.1" cy="417.5" r="1.12" fill="#0a0aff"/>
<circle cx="100.3" cy="415.5" r="1.12" fill="#0a0aff"/>
<circle cx="91.1" cy="346.2" r="1.12" fill="#0a0aff"/>
<circle cx="98.5" cy="353.8" r="1.12" fill="#0a0aff"/>
<circle cx="110.0" cy="367.2" r="1.12" fill="#0a0aff"/>
<circle cx="46.2" cy="405.1" r="1.12" fill="#0a0aff"/>
<circle cx="54.1" cy="404.5" r="1.12" fill="#0a0aff"/>
<circle cx="43.9" cy="408.0" r="1.12" fill="#0a0aff"/>
<circle cx="52.5" cy="406.9" r="1.12" fill="#0a0aff"/>
<circle cx="52.5" cy="408.2" r="1.12" fill="#0a0aff"/>
<circle cx="49.2" cy="409.6" r="1.12" fill="#0a0aff"/>
<circle cx="46.5" cy="409.9" r="1.12" fill="#0a0aff"/>
<circle cx="50.8" cy="410.9" r="1.12" fill="#0a0aff"/>
<circle cx="52.8" cy="411.2" r="1.12" fill="#0a0aff"/>
<circle cx="54.8" cy="410.2" r="1.12" fill="#0a0aff"/>
<circle cx="56.1" cy="410.9" r="1.12" fill="#0a0aff"/>
<circle cx="58.1" cy="408.6" r="1.12" fill="#0a0aff"/>
<circle cx="60.0" cy="407.6" r="1.12" fill="#0a0aff"/>
<circle cx="62.0" cy="406.9" r="1.12" fill="#0a0aff"/>
<circle cx="64.0" cy="406.3" r="1.12" fill="#0a0aff"/>
<circle cx="44.2" cy="412.5" r="1.12" fill="#0a0aff"/>
<circle cx="42.3" cy="413.5" r="1.12" fill="#0a0aff"/>
<circle cx="48.2" cy="412.9" r="1.12" fill="#0a0aff"/>
<circle cx="50.2" cy="413.8" r="1.12" fill="#0a0aff"/>
<circle cx="52.1" cy="413.2" r="1.12" fill="#0a0aff"/>
<circle cx="54.8" cy="413.8" r="1.12" fill="#0a0aff"/>
<circle cx="58.1" cy="412.9" r="1.12" fill="#0a0aff"/>
<circle cx="63.0" cy="413.8" r="1.12" fill="#0a0aff"/>
<circle cx="43.6" cy="415.8" r="1.12" fill="#0a0aff"/>
<circle cx="46.2" cy="415.5" r="1.12" fill="#0a0aff"/>
<circle cx="48.8" cy="415.8" r="1.12" fill="#0a0aff"/>
<circle cx="51.5" cy="415.2" r="1.12" fill="#0a0aff"/>
<circle cx="46.2" cy="417.8" r="1.12" fill="#0a0aff"/>
<circle cx="48.2" cy="417.8" r="1.12" fill="#0a0aff"/>
<circle cx="50.8" cy="417.5" r="1.12" fill="#0a0aff"/>
<circle cx="57.7" cy="417.1" r="1.12" fill="#0a0aff"/>
<circle cx="42.9" cy="420.4" r="1.12" fill="#0a0aff"/>
<circle cx="45.9" cy="419.8" r="1.12" fill="#0a0aff"/>
<circle cx="48.2" cy="419.1" r="1.12" fill="#0a0aff"/>
<circle cx="50.5" cy="419.8" r="1.12" fill="#0a0aff"/>
<circle cx="54.8" cy="419.8" r="1.12" fill="#0a0aff"/>
<circle cx="44.2" cy="421.8" r="1.12" fill="#0a0aff"/>
<circle cx="46.9" cy="421.8" r="1.12" fill="#0a0aff"/>
<circle cx="49.2" cy="421.1" r="1.12" fill="#0a0aff"/>
<circle cx="51.2" cy="422.4" r="1.12" fill="#0a0aff"/>
<circle cx="43.9" cy="423.7" r="1.12" fill="#0a0aff"/>
<circle cx="47.2" cy="423.4" r="1.12" fill="#0a0aff"/>
<circle cx="52.5" cy="424.1" r="1.12" fill="#0a0aff"/>
<circle cx="45.5" cy="426.7" r="1.12" fill="#0a0aff"/>
<circle cx="47.2" cy="426.4" r="1.12" fill="#0a0aff"/>
<circle cx="36.5" cy="422.5" r="1.12" fill="#0a0aff"/>
<circle cx="39.5" cy="420.8" r="1.12" fill="#0a0aff"/>
<polygon points="214.60,414.43 216.61,413.73 218.61,413.03 220.62,412.33 222.63,411.62 224.64,410.90 226.64,410.17 228.65,409.43 230.66,408.68 232.67,407.92 234.67,407.15 236.68,406.36 238.69,405.56 240.70,404.74 242.70,403.91 244.71,403.06 246.72,402.20 248.73,401.32 250.73,400.43 252.74,399.54 254.75,398.63 256.76,397.71 258.76,396.78 260.77,395.85 262.78,394.91 264.79,393.97 266.79,393.02 268.80,392.06 270.81,391.11 272.82,390.14 274.82,389.18 276.83,388.22 278.84,387.25 280.85,386.28 282.85,385.30 284.86,384.33 286.87,383.35 288.88,382.38 290.88,381.40 292.89,380.42 294.90,379.44 294.90,389.76 292.89,390.42 290.88,391.08 288.88,391.74 286.87,392.41 284.86,393.07 282.85,393.74 280.85,394.40 278.84,395.07 276.83,395.74 274.82,396.42 272.82,397.10 270.81,397.77 268.80,398.46 266.79,399.14 264.79,399.83 262.78,400.53 260.77,401.23 258.76,401.94 256.76,402.65 254.75,403.37 252.74,404.10 250.73,404.85 248.73,405.60 246.72,406.36 244.71,407.14 242.70,407.93 240.70,408.74 238.69,409.56 236.68,410.40 234.67,411.25 232.67,412.12 230.66,413.00 228.65,413.89 226.64,414.79 224.64,415.70 222.63,416.62 220.62,417.55 218.61,418.49 216.61,419.43 214.60,420.37" fill="#eec0f8"/>
<polyline points="214.60,412.94 216.61,412.31 218.61,411.67 220.62,411.02 222.63,410.37 224.64,409.70 226.64,409.01 228.65,408.32 230.66,407.60 232.67,406.87 234.67,406.12 236.68,405.35 238.69,404.56 240.70,403.74 242.70,402.90 244.71,402.04 246.72,401.16 248.73,400.25 250.73,399.33 252.74,398.39 254.75,397.44 256.76,396.47 258.76,395.49 260.77,394.50 262.78,393.51 264.79,392.50 266.79,391.48 268.80,390.46 270.81,389.44 272.82,388.41 274.82,387.37 276.83,386.33 278.84,385.29 280.85,384.24 282.85,383.20 284.86,382.15 286.87,381.09 288.88,380.04 290.88,378.98 292.89,377.92 294.90,376.86" fill="none" stroke="#a830e2" stroke-width="1.0" stroke-linejoin="round" stroke-dasharray="1.1,1.3"/>
<polyline points="214.60,421.86 216.61,420.85 218.61,419.85 220.62,418.86 222.63,417.87 224.64,416.90 226.64,415.95 228.65,415.00 230.66,414.08 232.67,413.17 234.67,412.28 236.68,411.41 238.69,410.56 240.70,409.74 242.70,408.94 244.71,408.16 246.72,407.40 248.73,406.67 250.73,405.95 252.74,405.25 254.75,404.56 256.76,403.89 258.76,403.23 260.77,402.58 262.78,401.93 264.79,401.30 266.79,400.68 268.80,400.06 270.81,399.44 272.82,398.83 274.82,398.23 276.83,397.63 278.84,397.03 280.85,396.44 282.85,395.84 284.86,395.25 286.87,394.67 288.88,394.08 290.88,393.50 292.89,392.92 294.90,392.34" fill="none" stroke="#a830e2" stroke-width="1.0" stroke-linejoin="round" stroke-dasharray="1.1,1.3"/>
<line x1="214.60" y1="417.40" x2="294.90" y2="384.60" stroke="#a020d8" stroke-width="0.9"/>
<circle cx="253.1" cy="368.9" r="1.12" fill="#9a00e0"/>
<circle cx="248.9" cy="379.7" r="1.12" fill="#9a00e0"/>
<circle cx="243.5" cy="388.6" r="1.12" fill="#9a00e0"/>
<circle cx="253.4" cy="386.5" r="1.12" fill="#9a00e0"/>
<circle cx="252.8" cy="391.5" r="1.12" fill="#9a00e0"/>
<circle cx="247.8" cy="393.8" r="1.12" fill="#9a00e0"/>
<circle cx="253.8" cy="395.1" r="1.12" fill="#9a00e0"/>
<circle cx="214.6" cy="399.2" r="1.12" fill="#9a00e0"/>
<circle cx="234.9" cy="397.8" r="1.12" fill="#9a00e0"/>
<circle cx="242.0" cy="397.2" r="1.12" fill="#9a00e0"/>
<circle cx="229.2" cy="402.2" r="1.12" fill="#9a00e0"/>
<circle cx="234.3" cy="401.8" r="1.12" fill="#9a00e0"/>
<circle cx="242.3" cy="400.8" r="1.12" fill="#9a00e0"/>
<circle cx="226.6" cy="405.4" r="1.12" fill="#9a00e0"/>
<circle cx="240.8" cy="404.3" r="1.12" fill="#9a00e0"/>
<circle cx="243.1" cy="404.3" r="1.12" fill="#9a00e0"/>
<circle cx="250.8" cy="402.3" r="1.12" fill="#9a00e0"/>
<circle cx="253.8" cy="400.8" r="1.12" fill="#9a00e0"/>
<circle cx="256.2" cy="404.6" r="1.12" fill="#9a00e0"/>
<circle cx="220.8" cy="408.5" r="1.12" fill="#9a00e0"/>
<circle cx="220.0" cy="410.0" r="1.12" fill="#9a00e0"/>
<circle cx="226.9" cy="409.2" r="1.12" fill="#9a00e0"/>
<circle cx="233.1" cy="408.5" r="1.12" fill="#9a00e0"/>
<circle cx="239.2" cy="408.0" r="1.12" fill="#9a00e0"/>
<circle cx="245.4" cy="406.9" r="1.12" fill="#9a00e0"/>
<circle cx="248.5" cy="407.7" r="1.12" fill="#9a00e0"/>
<circle cx="253.8" cy="408.5" r="1.12" fill="#9a00e0"/>
<circle cx="257.7" cy="408.9" r="1.12" fill="#9a00e0"/>
<circle cx="259.2" cy="406.2" r="1.12" fill="#9a00e0"/>
<circle cx="224.6" cy="412.3" r="1.12" fill="#9a00e0"/>
<circle cx="230.0" cy="410.8" r="1.12" fill="#9a00e0"/>
<circle cx="235.4" cy="412.3" r="1.12" fill="#9a00e0"/>
<circle cx="240.8" cy="411.5" r="1.12" fill="#9a00e0"/>
<circle cx="245.4" cy="413.1" r="1.12" fill="#9a00e0"/>
<circle cx="250.0" cy="413.1" r="1.12" fill="#9a00e0"/>
<circle cx="253.1" cy="411.5" r="1.12" fill="#9a00e0"/>
<circle cx="256.2" cy="412.3" r="1.12" fill="#9a00e0"/>
<circle cx="259.2" cy="413.1" r="1.12" fill="#9a00e0"/>
<circle cx="216.9" cy="416.2" r="1.12" fill="#9a00e0"/>
<circle cx="220.0" cy="415.4" r="1.12" fill="#9a00e0"/>
<circle cx="223.1" cy="416.2" r="1.12" fill="#9a00e0"/>
<circle cx="229.2" cy="415.4" r="1.12" fill="#9a00e0"/>
<circle cx="233.8" cy="413.8" r="1.12" fill="#9a00e0"/>
<circle cx="238.5" cy="414.2" r="1.12" fill="#9a00e0"/>
<circle cx="246.9" cy="414.2" r="1.12" fill="#9a00e0"/>
<circle cx="256.2" cy="415.4" r="1.12" fill="#9a00e0"/>
<circle cx="215.4" cy="419.2" r="1.12" fill="#9a00e0"/>
<circle cx="218.5" cy="418.5" r="1.12" fill="#9a00e0"/>
<circle cx="222.3" cy="419.2" r="1.12" fill="#9a00e0"/>
<circle cx="225.4" cy="420.8" r="1.12" fill="#9a00e0"/>
<circle cx="232.3" cy="419.2" r="1.12" fill="#9a00e0"/>
<circle cx="236.9" cy="416.9" r="1.12" fill="#9a00e0"/>
<circle cx="240.0" cy="419.2" r="1.12" fill="#9a00e0"/>
<circle cx="249.2" cy="419.7" r="1.12" fill="#9a00e0"/>
<circle cx="216.2" cy="421.5" r="1.12" fill="#9a00e0"/>
<circle cx="219.2" cy="422.3" r="1.12" fill="#9a00e0"/>
<circle cx="223.8" cy="421.5" r="1.12" fill="#9a00e0"/>
<circle cx="226.9" cy="422.3" r="1.12" fill="#9a00e0"/>
<circle cx="217.7" cy="423.8" r="1.12" fill="#9a00e0"/>
<circle cx="220.8" cy="423.1" r="1.12" fill="#9a00e0"/>
<circle cx="231.5" cy="424.3" r="1.12" fill="#9a00e0"/>
<circle cx="243.8" cy="422.8" r="1.12" fill="#9a00e0"/>
<circle cx="246.9" cy="423.8" r="1.12" fill="#9a00e0"/>
<circle cx="246.2" cy="424.9" r="1.12" fill="#9a00e0"/>
<circle cx="214.6" cy="420.8" r="1.12" fill="#9a00e0"/>
<circle cx="279.2" cy="363.7" r="1.12" fill="#9a00e0"/>
<circle cx="286.6" cy="364.7" r="1.12" fill="#9a00e0"/>
<circle cx="286.6" cy="378.5" r="1.12" fill="#9a00e0"/>
<circle cx="295.5" cy="395.3" r="1.12" fill="#9a00e0"/>
<circle cx="253.6" cy="386.4" r="1.12" fill="#9a00e0"/>
<circle cx="254.0" cy="394.9" r="1.12" fill="#9a00e0"/>
<circle cx="262.8" cy="393.0" r="1.12" fill="#9a00e0"/>
<circle cx="259.9" cy="398.3" r="1.12" fill="#9a00e0"/>
<circle cx="252.0" cy="404.2" r="1.12" fill="#9a00e0"/>
<circle cx="254.0" cy="408.2" r="1.12" fill="#9a00e0"/>
<circle cx="257.9" cy="408.2" r="1.12" fill="#9a00e0"/>
<circle cx="260.9" cy="408.8" r="1.12" fill="#9a00e0"/>
<circle cx="251.0" cy="412.1" r="1.12" fill="#9a00e0"/>
<circle cx="255.9" cy="411.1" r="1.12" fill="#9a00e0"/>
<circle cx="258.9" cy="413.1" r="1.12" fill="#9a00e0"/>
<circle cx="264.8" cy="410.8" r="1.12" fill="#9a00e0"/>
<circle cx="266.2" cy="414.1" r="1.12" fill="#9a00e0"/>
<circle cx="255.9" cy="415.1" r="1.12" fill="#9a00e0"/>
<circle cx="263.8" cy="422.0" r="1.12" fill="#9a00e0"/>
<circle cx="250.6" cy="419.0" r="1.12" fill="#9a00e0"/>
<circle cx="214.7" cy="399.2" r="1.12" fill="#9a00e0"/>
<circle cx="234.7" cy="398.1" r="1.12" fill="#9a00e0"/>
<circle cx="242.4" cy="397.3" r="1.12" fill="#9a00e0"/>
<circle cx="242.0" cy="400.8" r="1.12" fill="#9a00e0"/>
<circle cx="243.5" cy="400.8" r="1.12" fill="#9a00e0"/>
<circle cx="229.3" cy="402.3" r="1.12" fill="#9a00e0"/>
<circle cx="234.3" cy="402.3" r="1.12" fill="#9a00e0"/>
<circle cx="226.6" cy="405.4" r="1.12" fill="#9a00e0"/>
<circle cx="240.8" cy="404.2" r="1.12" fill="#9a00e0"/>
<circle cx="243.2" cy="404.2" r="1.12" fill="#9a00e0"/>
<circle cx="245.8" cy="404.6" r="1.12" fill="#9a00e0"/>
<circle cx="220.8" cy="408.5" r="1.12" fill="#9a00e0"/>
<circle cx="220.1" cy="410.4" r="1.12" fill="#9a00e0"/>
<circle cx="226.2" cy="409.2" r="1.12" fill="#9a00e0"/>
<circle cx="232.8" cy="408.5" r="1.12" fill="#9a00e0"/>
<circle cx="238.9" cy="407.7" r="1.12" fill="#9a00e0"/>
<circle cx="240.8" cy="406.9" r="1.12" fill="#9a00e0"/>
<circle cx="245.1" cy="409.6" r="1.12" fill="#9a00e0"/>
<circle cx="223.5" cy="412.3" r="1.12" fill="#9a00e0"/>
<circle cx="230.1" cy="411.2" r="1.12" fill="#9a00e0"/>
<circle cx="234.3" cy="412.3" r="1.12" fill="#9a00e0"/>
<circle cx="238.2" cy="410.4" r="1.12" fill="#9a00e0"/>
<circle cx="242.8" cy="412.3" r="1.12" fill="#9a00e0"/>
<circle cx="245.8" cy="413.5" r="1.12" fill="#9a00e0"/>
<circle cx="217.4" cy="415.8" r="1.12" fill="#9a00e0"/>
<circle cx="221.2" cy="414.6" r="1.12" fill="#9a00e0"/>
<circle cx="225.1" cy="414.6" r="1.12" fill="#9a00e0"/>
<circle cx="229.7" cy="415.4" r="1.12" fill="#9a00e0"/>
<circle cx="238.9" cy="413.5" r="1.12" fill="#9a00e0"/>
<circle cx="215.1" cy="418.1" r="1.12" fill="#9a00e0"/>
<circle cx="216.6" cy="420.0" r="1.12" fill="#9a00e0"/>
<circle cx="218.9" cy="418.1" r="1.12" fill="#9a00e0"/>
<circle cx="222.0" cy="418.8" r="1.12" fill="#9a00e0"/>
<circle cx="223.5" cy="419.6" r="1.12" fill="#9a00e0"/>
<circle cx="225.8" cy="421.5" r="1.12" fill="#9a00e0"/>
<circle cx="232.0" cy="419.2" r="1.12" fill="#9a00e0"/>
<circle cx="236.6" cy="416.9" r="1.12" fill="#9a00e0"/>
<circle cx="239.7" cy="419.6" r="1.12" fill="#9a00e0"/>
<circle cx="215.1" cy="421.5" r="1.12" fill="#9a00e0"/>
<circle cx="218.2" cy="422.3" r="1.12" fill="#9a00e0"/>
<circle cx="219.7" cy="423.5" r="1.12" fill="#9a00e0"/>
<circle cx="221.2" cy="421.5" r="1.12" fill="#9a00e0"/>
<circle cx="214.7" cy="424.2" r="1.12" fill="#9a00e0"/>
<circle cx="230.8" cy="424.2" r="1.12" fill="#9a00e0"/>
<circle cx="243.2" cy="422.7" r="1.12" fill="#9a00e0"/>
<circle cx="245.8" cy="424.6" r="1.12" fill="#9a00e0"/>
<text x="39.9" y="334.9" font-size="7.5" fill="#3030ee" stroke="#3030ee" stroke-width="0.1"><tspan font-style="italic">R</tspan><tspan font-size="4.8" dy="-3">2</tspan><tspan dy="3"> = 0.298</tspan></text>
<text x="39.9" y="344.0" font-size="7.5" fill="#3030ee" stroke="#3030ee" stroke-width="0.1"><tspan font-style="italic">P</tspan> &lt; 0.0001</text>
<text x="217.7" y="334.9" font-size="7.5" fill="#a030dd" stroke="#a030dd" stroke-width="0.1"><tspan font-style="italic">R</tspan><tspan font-size="4.8" dy="-3">2</tspan><tspan dy="3"> = 0.334</tspan></text>
<text x="217.7" y="344.0" font-size="7.5" fill="#a030dd" stroke="#a030dd" stroke-width="0.1"><tspan font-style="italic">P</tspan> &lt; 0.0001</text>
</svg>
</body></html>
